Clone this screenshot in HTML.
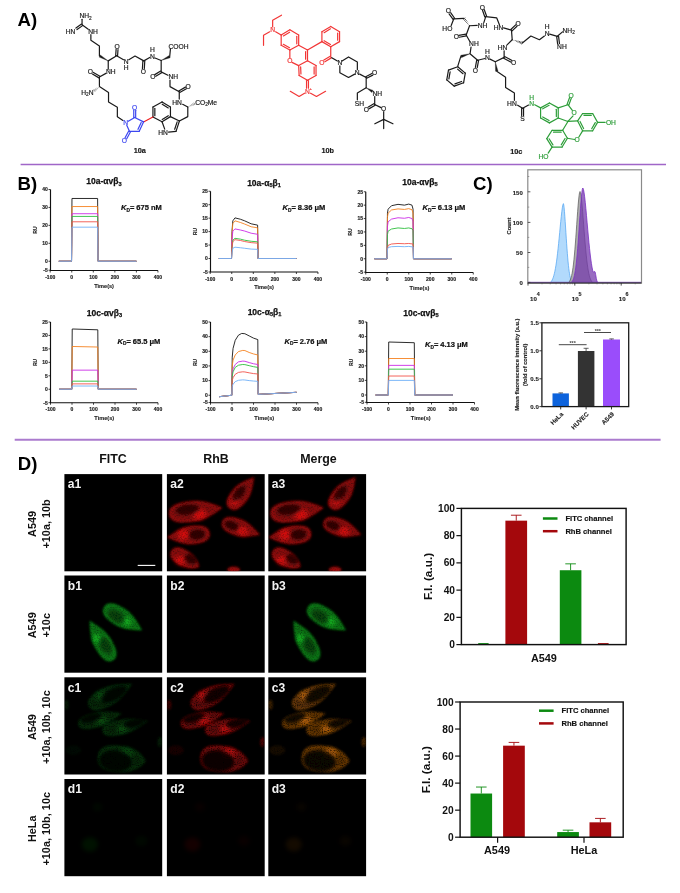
<!DOCTYPE html>
<html><head><meta charset="utf-8"><title>Figure</title>
<style>html,body{margin:0;padding:0;background:#fff}body{width:680px;height:893px;overflow:hidden}svg{display:block;filter:blur(0.45px)}text{font-family:"Liberation Sans", Arial, sans-serif}</style>
</head><body>
<svg width="680" height="893" viewBox="0 0 680 893">
<rect width="680" height="893" fill="#fff"/>
<defs>
<filter id="b1" x="-30%" y="-30%" width="160%" height="160%"><feGaussianBlur stdDeviation="0.9"/></filter>
<filter id="b15" x="-50%" y="-50%" width="200%" height="200%"><feGaussianBlur stdDeviation="1.5"/></filter>
<filter id="b2" x="-60%" y="-60%" width="220%" height="220%"><feGaussianBlur stdDeviation="2.2"/></filter>
<filter id="grain" x="0" y="0" width="100%" height="100%"><feTurbulence type="fractalNoise" baseFrequency="0.75" numOctaves="2" seed="7" result="n"/><feColorMatrix in="n" type="matrix" values="0 0 0 0 0  0 0 0 0 0  0 0 0 0 0  0.9 0 0 0 0.5" result="a"/><feComposite in="SourceGraphic" in2="a" operator="in"/><feGaussianBlur stdDeviation="0.55"/></filter>
<filter id="grainC" x="0" y="0" width="100%" height="100%"><feTurbulence type="fractalNoise" baseFrequency="0.85" numOctaves="1" seed="11" result="n"/><feColorMatrix in="n" type="matrix" values="0 0 0 0 0  0 0 0 0 0  0 0 0 0 0  2.0 0 0 0 -0.1" result="a"/><feComposite in="SourceGraphic" in2="a" operator="in"/><feGaussianBlur stdDeviation="0.65"/></filter>
<clipPath id="pc"><rect x="0" y="0" width="97.8" height="97.2"/></clipPath>
<g id="cA" clip-path="url(#pc)"><g filter="url(#grain)"><path transform="translate(74.9 18.6) rotate(-51.7)" d="M-20 0C-20 -7.88 -11 -8.75 -3 -8.75C7 -8.75 15 -2.19 20 0C15 2.19 7 8.75 -3 8.75C-11 8.75 -20 7.88 -20 0Z" fill="currentColor" fill-opacity="0.5" filter="url(#b1)"/><path transform="translate(74.9 18.6) rotate(-51.7)" d="M-18.6 0C-18.6 -6.77 -10.23 -7.52 -2.79 -7.52C6.51 -7.52 13.95 -1.88 18.6 0C13.95 1.88 6.51 7.52 -2.79 7.52C-10.23 7.52 -18.6 6.77 -18.6 0Z" fill="none" stroke="currentColor" stroke-opacity="0.3" stroke-width="1.3" filter="url(#b1)"/><ellipse transform="translate(68 27) rotate(-51.7)" rx="5" ry="4" fill="currentColor" fill-opacity="0.7" filter="url(#b2)"/><ellipse transform="translate(71.9 19.5) rotate(-51.7)" rx="9.52" ry="4.14" fill="#000" fill-opacity="0.62" filter="url(#b15)"/><path transform="translate(28.8 36.9) rotate(-7)" d="M-27 0C-27 -9.45 -14.85 -10.5 -4.05 -10.5C9.45 -10.5 20.25 -3.88 27 0C20.25 3.88 9.45 10.5 -4.05 10.5C-14.85 10.5 -27 9.45 -27 0Z" fill="currentColor" fill-opacity="0.5" filter="url(#b1)"/><path transform="translate(28.8 36.9) rotate(-7)" d="M-25.11 0C-25.11 -8.13 -13.81 -9.03 -3.77 -9.03C8.79 -9.03 18.83 -3.34 25.11 0C18.83 3.34 8.79 9.03 -3.77 9.03C-13.81 9.03 -25.11 8.13 -25.11 0Z" fill="none" stroke="currentColor" stroke-opacity="0.3" stroke-width="1.3" filter="url(#b1)"/><ellipse transform="translate(32.5 40.5) rotate(-7)" rx="7" ry="5" fill="currentColor" fill-opacity="0.7" filter="url(#b2)"/><ellipse transform="translate(20.5 35.5) rotate(-7)" rx="11.76" ry="5.29" fill="#000" fill-opacity="0.62" filter="url(#b15)"/><path transform="translate(74.1 54.2) rotate(19)" d="M-20 0C-20 -7.65 -11 -8.5 -3 -8.5C7 -8.5 15 -2.12 20 0C15 2.12 7 8.5 -3 8.5C-11 8.5 -20 7.65 -20 0Z" fill="currentColor" fill-opacity="0.5" filter="url(#b1)"/><path transform="translate(74.1 54.2) rotate(19)" d="M-18.6 0C-18.6 -6.58 -10.23 -7.31 -2.79 -7.31C6.51 -7.31 13.95 -1.83 18.6 0C13.95 1.83 6.51 7.31 -2.79 7.31C-10.23 7.31 -18.6 6.58 -18.6 0Z" fill="none" stroke="currentColor" stroke-opacity="0.3" stroke-width="1.3" filter="url(#b1)"/><ellipse transform="translate(75.5 57) rotate(19)" rx="6" ry="4" fill="currentColor" fill-opacity="0.7" filter="url(#b2)"/><ellipse transform="translate(64.6 51.3) rotate(19)" rx="7.62" ry="4.14" fill="#000" fill-opacity="0.62" filter="url(#b15)"/><path transform="translate(21.5 61.2) rotate(174.5)" d="M-21.5 0C-21.5 -8.37 -11.83 -9.3 -3.23 -9.3C7.52 -9.3 16.12 -2.33 21.5 0C16.12 2.33 7.52 9.3 -3.23 9.3C-11.83 9.3 -21.5 8.37 -21.5 0Z" fill="currentColor" fill-opacity="0.5" filter="url(#b1)"/><path transform="translate(21.5 61.2) rotate(174.5)" d="M-20 0C-20 -7.2 -11 -8 -3 -8C7 -8 15 -2 20 0C15 2 7 8 -3 8C-11 8 -20 7.2 -20 0Z" fill="none" stroke="currentColor" stroke-opacity="0.3" stroke-width="1.3" filter="url(#b1)"/><ellipse transform="translate(16.5 60.6) rotate(174.5)" rx="6" ry="5" fill="currentColor" fill-opacity="0.7" filter="url(#b2)"/><ellipse transform="translate(30.2 60.5) rotate(174.5)" rx="8.06" ry="5.29" fill="#000" fill-opacity="0.62" filter="url(#b15)"/><path transform="translate(18.3 84.8) rotate(30)" d="M-16 0C-16 -7.2 -8.8 -8 -2.4 -8C5.6 -8 12 -5.36 16 0C12 5.36 5.6 8 -2.4 8C-8.8 8 -16 7.2 -16 0Z" fill="currentColor" fill-opacity="0.5" filter="url(#b1)"/><path transform="translate(18.3 84.8) rotate(30)" d="M-14.88 0C-14.88 -6.19 -8.18 -6.88 -2.23 -6.88C5.21 -6.88 11.16 -4.61 14.88 0C11.16 4.61 5.21 6.88 -2.23 6.88C-8.18 6.88 -14.88 6.19 -14.88 0Z" fill="none" stroke="currentColor" stroke-opacity="0.3" stroke-width="1.3" filter="url(#b1)"/><ellipse transform="translate(13.4 86.2) rotate(30)" rx="5" ry="4.4" fill="currentColor" fill-opacity="0.7" filter="url(#b2)"/><ellipse transform="translate(24.2 85) rotate(30)" rx="6.72" ry="4.6" fill="#000" fill-opacity="0.62" filter="url(#b15)"/><ellipse cx="66.8" cy="95.8" rx="6.4" ry="3.4" fill="currentColor" fill-opacity="0.6" filter="url(#b1)"/></g></g>
<g id="cB" clip-path="url(#pc)"><g filter="url(#grain)"><path transform="translate(58.7 43.2) rotate(31.7)" d="M-22.35 0C-22.35 -8.37 -12.29 -9.3 -3.35 -9.3C7.82 -9.3 16.76 -2.33 22.35 0C16.76 2.33 7.82 9.3 -3.35 9.3C-12.29 9.3 -22.35 8.37 -22.35 0Z" fill="currentColor" fill-opacity="0.5" filter="url(#b1)"/><path transform="translate(58.7 43.2) rotate(31.7)" d="M-20.79 0C-20.79 -7.2 -11.43 -8 -3.12 -8C7.27 -8 15.59 -2 20.79 0C15.59 2 7.27 8 -3.12 8C-11.43 8 -20.79 7.2 -20.79 0Z" fill="none" stroke="currentColor" stroke-opacity="0.3" stroke-width="1.3" filter="url(#b1)"/><ellipse transform="translate(62.5 45.8) rotate(31.7)" rx="5" ry="4" fill="currentColor" fill-opacity="0.7" filter="url(#b2)"/><ellipse transform="translate(52 40.9) rotate(31.7)" rx="9.52" ry="5.29" fill="#000" fill-opacity="0.4" filter="url(#b15)"/><path transform="translate(36.9 65) rotate(239.4)" d="M-23 0C-23 -8.01 -12.65 -8.9 -3.45 -8.9C8.05 -8.9 17.25 -2.23 23 0C17.25 2.23 8.05 8.9 -3.45 8.9C-12.65 8.9 -23 8.01 -23 0Z" fill="currentColor" fill-opacity="0.5" filter="url(#b1)"/><path transform="translate(36.9 65) rotate(239.4)" d="M-21.39 0C-21.39 -6.89 -11.76 -7.65 -3.21 -7.65C7.49 -7.65 16.04 -1.91 21.39 0C16.04 1.91 7.49 7.65 -3.21 7.65C-11.76 7.65 -21.39 6.89 -21.39 0Z" fill="none" stroke="currentColor" stroke-opacity="0.3" stroke-width="1.3" filter="url(#b1)"/><ellipse transform="translate(32.6 63) rotate(239.4)" rx="4.5" ry="4" fill="currentColor" fill-opacity="0.7" filter="url(#b2)"/><ellipse transform="translate(41 70) rotate(239.4)" rx="8.96" ry="5.06" fill="#000" fill-opacity="0.4" filter="url(#b15)"/></g></g>
<g id="cC" clip-path="url(#pc)"><g filter="url(#grainC)"><path transform="translate(46.1 17.8) rotate(-27.4)" d="M-24.5 0C-24.5 -8.37 -13.48 -9.3 -3.67 -9.3C8.57 -9.3 18.38 -2.33 24.5 0C18.38 2.33 8.57 9.3 -3.67 9.3C-13.48 9.3 -24.5 8.37 -24.5 0Z" fill="currentColor" fill-opacity="0.36" filter="url(#b1)"/><path transform="translate(46.1 17.8) rotate(-27.4)" d="M-22.79 0C-22.79 -7.2 -12.53 -8 -3.42 -8C7.97 -8 17.09 -2 22.79 0C17.09 2 7.97 8 -3.42 8C-12.53 8 -22.79 7.2 -22.79 0Z" fill="none" stroke="currentColor" stroke-opacity="0.3" stroke-width="1.3" filter="url(#b1)"/><ellipse transform="translate(36.2 18.4) rotate(-27.4)" rx="6" ry="4.5" fill="currentColor" fill-opacity="0.6" filter="url(#b2)"/><ellipse transform="translate(49.5 17) rotate(-27.4)" rx="14" ry="5.98" fill="#000" fill-opacity="0.8" filter="url(#b15)"/><path transform="translate(35.6 41.7) rotate(-14.5)" d="M-22.5 0C-22.5 -6.57 -12.38 -7.3 -3.38 -7.3C7.87 -7.3 16.88 -1.82 22.5 0C16.88 1.82 7.87 7.3 -3.38 7.3C-12.38 7.3 -22.5 6.57 -22.5 0Z" fill="currentColor" fill-opacity="0.38" filter="url(#b1)"/><path transform="translate(35.6 41.7) rotate(-14.5)" d="M-20.93 0C-20.93 -5.65 -11.51 -6.28 -3.14 -6.28C7.32 -6.28 15.69 -1.57 20.93 0C15.69 1.57 7.32 6.28 -3.14 6.28C-11.51 6.28 -20.93 5.65 -20.93 0Z" fill="none" stroke="currentColor" stroke-opacity="0.3" stroke-width="1.3" filter="url(#b1)"/><ellipse transform="translate(36.6 43) rotate(-14.5)" rx="6.5" ry="3.4" fill="currentColor" fill-opacity="0.75" filter="url(#b2)"/><ellipse transform="translate(26.5 40.6) rotate(-14.5)" rx="11.2" ry="4.14" fill="#000" fill-opacity="0.8" filter="url(#b15)"/><path transform="translate(60.7 48.9) rotate(-13)" d="M-23.25 0C-23.25 -6.57 -12.79 -7.3 -3.49 -7.3C8.14 -7.3 17.44 -1.82 23.25 0C17.44 1.82 8.14 7.3 -3.49 7.3C-12.79 7.3 -23.25 6.57 -23.25 0Z" fill="currentColor" fill-opacity="0.38" filter="url(#b1)"/><path transform="translate(60.7 48.9) rotate(-13)" d="M-21.62 0C-21.62 -5.65 -11.89 -6.28 -3.24 -6.28C7.57 -6.28 16.22 -1.57 21.62 0C16.22 1.57 7.57 6.28 -3.24 6.28C-11.89 6.28 -21.62 5.65 -21.62 0Z" fill="none" stroke="currentColor" stroke-opacity="0.3" stroke-width="1.3" filter="url(#b1)"/><ellipse transform="translate(58.5 51.2) rotate(-13)" rx="6" ry="3.4" fill="currentColor" fill-opacity="0.75" filter="url(#b2)"/><ellipse transform="translate(70 45.8) rotate(-13)" rx="11.2" ry="4.14" fill="#000" fill-opacity="0.8" filter="url(#b15)"/><path transform="translate(57.4 81.7) rotate(5)" d="M-24.25 0C-24.25 -12.02 -13.34 -13.35 -3.64 -13.35C8.49 -13.35 18.19 -9.75 24.25 0C18.19 9.75 8.49 13.35 -3.64 13.35C-13.34 13.35 -24.25 12.02 -24.25 0Z" fill="currentColor" fill-opacity="0.38" filter="url(#b1)"/><path transform="translate(57.4 81.7) rotate(5)" d="M-22.55 0C-22.55 -10.33 -12.4 -11.48 -3.38 -11.48C7.89 -11.48 16.91 -8.38 22.55 0C16.91 8.38 7.89 11.48 -3.38 11.48C-12.4 11.48 -22.55 10.33 -22.55 0Z" fill="none" stroke="currentColor" stroke-opacity="0.3" stroke-width="1.3" filter="url(#b1)"/><ellipse transform="translate(62 76) rotate(5)" rx="7" ry="5" fill="currentColor" fill-opacity="0.6" filter="url(#b2)"/><ellipse transform="translate(51 83.8) rotate(5)" rx="16.24" ry="10.58" fill="#000" fill-opacity="0.85" filter="url(#b15)"/><ellipse cx="2" cy="27.5" rx="2.5" ry="5" fill="currentColor" fill-opacity="0.25" filter="url(#b1)"/><ellipse cx="9" cy="73" rx="8" ry="5" fill="currentColor" fill-opacity="0.1" filter="url(#b1)"/><ellipse cx="95.5" cy="64.7" rx="2.4" ry="5" fill="currentColor" fill-opacity="0.3" filter="url(#b1)"/></g></g>
<g id="cD" clip-path="url(#pc)"><ellipse cx="25.5" cy="65.5" rx="8" ry="7" fill="currentColor" fill-opacity="0.08" filter="url(#b2)"/><ellipse cx="77" cy="62" rx="6" ry="5" fill="currentColor" fill-opacity="0.035" filter="url(#b2)"/><ellipse cx="33" cy="28" rx="5" ry="4" fill="currentColor" fill-opacity="0.035" filter="url(#b2)"/></g>
</defs>
<g font-weight="bold" fill="#000" font-size="18.6">
<text x="17.6" y="26.1">A)</text>
<text x="17.6" y="190">B)</text>
<text x="473" y="190.3">C)</text>
<text x="17.8" y="470.2">D)</text>
</g>
<path d="M20.6 164.4H666" stroke="#a066c8" stroke-width="1.5"/>
<path d="M14.7 439.8H660.6" stroke="#ab7bce" stroke-width="2.1"/>
<g id="mols" fill="none">
<text x="79.41" y="18.43" text-anchor="start" font-size="6.7" fill="#1a1a1a" stroke="#1a1a1a" stroke-width="0.18">NH<tspan font-size="4.7" dy="1.3">2</tspan></text>
<text x="75.44" y="33.87" text-anchor="end" font-size="6.7" fill="#1a1a1a" stroke="#1a1a1a" stroke-width="0.18">HN</text>
<text x="88.24" y="33.87" text-anchor="start" font-size="6.7" fill="#1a1a1a" stroke="#1a1a1a" stroke-width="0.18">NH</text>
<path d="M82.06 24.85L82.06 19.26" stroke="#1a1a1a" stroke-width="1.2" stroke-linecap="round"/>
<path d="M81.51 24.08L75.92 28.05" stroke="#1a1a1a" stroke-width="1.2" stroke-linecap="round"/>
<path d="M82.61 25.63L77.02 29.6" stroke="#1a1a1a" stroke-width="1.2" stroke-linecap="round"/>
<path d="M82.06 24.85L88.24 29.26" stroke="#1a1a1a" stroke-width="1.2" stroke-linecap="round"/>
<path d="M90.88 34.71L90.88 40.29L99.41 45.88L99.41 55.74" fill="none" stroke="#1a1a1a" stroke-width="1.2" stroke-linecap="round" stroke-linejoin="round"/>
<path d="M108.24 60.88L100.32 54.94L99.09 57.12Z" fill="#1a1a1a" stroke="#1a1a1a" stroke-width="0.3" stroke-linejoin="round"/>
<path d="M108.24 60.88L116.62 55.74" stroke="#1a1a1a" stroke-width="1.2" stroke-linecap="round"/>
<path d="M117.57 55.8L118.01 49.48" stroke="#1a1a1a" stroke-width="1.2" stroke-linecap="round"/>
<path d="M115.67 55.67L116.11 49.35" stroke="#1a1a1a" stroke-width="1.2" stroke-linecap="round"/>
<text x="117.06" y="49.02" text-anchor="middle" font-size="6.7" fill="#1a1a1a" stroke="#1a1a1a" stroke-width="0.18">O</text>
<path d="M116.62 55.74L123.53 59.71" stroke="#1a1a1a" stroke-width="1.2" stroke-linecap="round"/>
<text x="126.18" y="63.72" text-anchor="middle" font-size="6.7" fill="#1a1a1a" stroke="#1a1a1a" stroke-width="0.18">N</text>
<text x="126.18" y="70.05" text-anchor="middle" font-size="6.7" fill="#1a1a1a" stroke="#1a1a1a" stroke-width="0.18">H</text>
<path d="M128.82 59.71L135 56.03L143.82 60.88" fill="none" stroke="#1a1a1a" stroke-width="1.2" stroke-linecap="round" stroke-linejoin="round"/>
<path d="M142.88 60.83L142.43 68.47" stroke="#1a1a1a" stroke-width="1.2" stroke-linecap="round"/>
<path d="M144.77 60.94L144.33 68.58" stroke="#1a1a1a" stroke-width="1.2" stroke-linecap="round"/>
<text x="143.24" y="73.87" text-anchor="middle" font-size="6.7" fill="#1a1a1a" stroke="#1a1a1a" stroke-width="0.18">O</text>
<path d="M143.82 60.88L149.71 57.5" stroke="#1a1a1a" stroke-width="1.2" stroke-linecap="round"/>
<text x="152.35" y="58.58" text-anchor="middle" font-size="6.7" fill="#1a1a1a" stroke="#1a1a1a" stroke-width="0.18">N</text>
<text x="152.35" y="52.25" text-anchor="middle" font-size="6.7" fill="#1a1a1a" stroke="#1a1a1a" stroke-width="0.18">H</text>
<path d="M108.24 60.88L108.24 69.26" stroke="#1a1a1a" stroke-width="1.2" stroke-linecap="round"/>
<text x="105.88" y="74.31" text-anchor="start" font-size="6.7" fill="#1a1a1a" stroke="#1a1a1a" stroke-width="0.18">NH</text>
<path d="M105.88 73.38L99.41 77.06" stroke="#1a1a1a" stroke-width="1.2" stroke-linecap="round"/>
<path d="M99.9 76.24L93.42 72.42" stroke="#1a1a1a" stroke-width="1.2" stroke-linecap="round"/>
<path d="M98.93 77.88L92.46 74.05" stroke="#1a1a1a" stroke-width="1.2" stroke-linecap="round"/>
<text x="90.44" y="74.31" text-anchor="middle" font-size="6.7" fill="#1a1a1a" stroke="#1a1a1a" stroke-width="0.18">O</text>
<path d="M99.41 77.06L99.41 85.59" stroke="#1a1a1a" stroke-width="1.2" stroke-linecap="round"/>
<path d="M155 57.94L161.18 60.44" stroke="#1a1a1a" stroke-width="1.2" stroke-linecap="round"/>
<path d="M161.18 60.44L170.22 57.76L169.19 55.48Z" fill="#1a1a1a" stroke="#1a1a1a" stroke-width="0.3" stroke-linejoin="round"/>
<path d="M169.71 56.47L170.44 48.82" stroke="#1a1a1a" stroke-width="1.2" stroke-linecap="round"/>
<text x="168.53" y="48.58" text-anchor="start" font-size="6.7" fill="#1a1a1a" stroke="#1a1a1a" stroke-width="0.18">COOH</text>
<path d="M161.18 60.44L161.18 71.91" stroke="#1a1a1a" stroke-width="1.2" stroke-linecap="round"/>
<path d="M160.69 71.1L154.81 74.63" stroke="#1a1a1a" stroke-width="1.2" stroke-linecap="round"/>
<path d="M161.67 72.73L155.78 76.26" stroke="#1a1a1a" stroke-width="1.2" stroke-linecap="round"/>
<text x="152.79" y="79.16" text-anchor="middle" font-size="6.7" fill="#1a1a1a" stroke="#1a1a1a" stroke-width="0.18">O</text>
<path d="M161.18 71.91L167.94 75.29" stroke="#1a1a1a" stroke-width="1.2" stroke-linecap="round"/>
<text x="168.53" y="79.16" text-anchor="start" font-size="6.7" fill="#1a1a1a" stroke="#1a1a1a" stroke-width="0.18">NH</text>
<path d="M170 80L170 86.62L179.26 91.76" fill="none" stroke="#1a1a1a" stroke-width="1.2" stroke-linecap="round" stroke-linejoin="round"/>
<path d="M179.74 92.59L186.36 88.76" stroke="#1a1a1a" stroke-width="1.2" stroke-linecap="round"/>
<path d="M178.79 90.94L185.41 87.12" stroke="#1a1a1a" stroke-width="1.2" stroke-linecap="round"/>
<text x="188.09" y="89.02" text-anchor="middle" font-size="6.7" fill="#1a1a1a" stroke="#1a1a1a" stroke-width="0.18">O</text>
<path d="M179.26 91.76L179.26 99.12" stroke="#1a1a1a" stroke-width="1.2" stroke-linecap="round"/>
<text x="181.91" y="105.05" text-anchor="end" font-size="6.7" fill="#1a1a1a" stroke="#1a1a1a" stroke-width="0.18">HN</text>
<text x="195.15" y="105.05" text-anchor="start" font-size="6.7" fill="#1a1a1a" stroke="#1a1a1a" stroke-width="0.18">CO<tspan font-size="4.7" dy="1.3">2</tspan><tspan dy="-1.3">Me</tspan></text>
<path d="M182.65 104.26L187.79 107.06" stroke="#1a1a1a" stroke-width="1.2" stroke-linecap="round"/>
<path d="M189.23 106.64L189.01 106.19" stroke="#1a1a1a" stroke-width="0.55"/>
<path d="M190.66 106.21L190.22 105.32" stroke="#1a1a1a" stroke-width="0.55"/>
<path d="M192.09 105.79L191.44 104.44" stroke="#1a1a1a" stroke-width="0.55"/>
<path d="M193.53 105.37L192.65 103.57" stroke="#1a1a1a" stroke-width="0.55"/>
<path d="M194.96 104.95L193.86 102.7" stroke="#1a1a1a" stroke-width="0.55"/>
<path d="M187.79 107.06L187.79 116.62L179.41 121.03" fill="none" stroke="#1a1a1a" stroke-width="1.2" stroke-linecap="round" stroke-linejoin="round"/>
<path d="M170.44 116.62L170.44 107.06" stroke="#1a1a1a" stroke-width="1.2" stroke-linecap="round"/>
<path d="M170.44 107.06L162.06 101.91" stroke="#1a1a1a" stroke-width="1.2" stroke-linecap="round"/>
<path d="M168.27 107.96L162.24 104.25" stroke="#1a1a1a" stroke-width="1.2" stroke-linecap="round"/>
<path d="M162.06 101.91L152.94 107.06" stroke="#1a1a1a" stroke-width="1.2" stroke-linecap="round"/>
<path d="M152.94 107.06L152.94 117.06" stroke="#1a1a1a" stroke-width="1.2" stroke-linecap="round"/>
<path d="M154.84 108.46L154.84 115.66" stroke="#1a1a1a" stroke-width="1.2" stroke-linecap="round"/>
<path d="M152.94 117.06L162.06 121.76" stroke="#1a1a1a" stroke-width="1.2" stroke-linecap="round"/>
<path d="M162.06 121.76L170.44 116.62" stroke="#1a1a1a" stroke-width="1.2" stroke-linecap="round"/>
<path d="M162.24 119.42L168.27 115.72" stroke="#1a1a1a" stroke-width="1.2" stroke-linecap="round"/>
<path d="M170.44 116.62L179.41 121.03" stroke="#1a1a1a" stroke-width="1.2" stroke-linecap="round"/>
<path d="M179.41 121.03L176.03 131.32" stroke="#1a1a1a" stroke-width="1.2" stroke-linecap="round"/>
<path d="M177.13 121.88L174.7 129.29" stroke="#1a1a1a" stroke-width="1.2" stroke-linecap="round"/>
<path d="M176.03 131.32L168.53 132.06" stroke="#1a1a1a" stroke-width="1.2" stroke-linecap="round"/>
<path d="M164.71 129.12L162.06 121.76" stroke="#1a1a1a" stroke-width="1.2" stroke-linecap="round"/>
<text x="167.94" y="134.75" text-anchor="end" font-size="6.7" fill="#1a1a1a" stroke="#1a1a1a" stroke-width="0.18">HN</text>
<path d="M152.94 117.06L143.53 121.91" stroke="#f01c1c" stroke-width="1.1" stroke-linecap="round"/>
<text x="93.53" y="94.9" text-anchor="end" font-size="6.7" fill="#1a1a1a" stroke="#1a1a1a" stroke-width="0.18">H<tspan font-size="4.7" dy="1.3">2</tspan><tspan dy="-1.3">N</tspan></text>
<path d="M98.23 87.21L98.54 87.61" stroke="#1a1a1a" stroke-width="0.55"/>
<path d="M97.05 87.81L97.66 88.6" stroke="#1a1a1a" stroke-width="0.55"/>
<path d="M95.87 88.41L96.78 89.59" stroke="#1a1a1a" stroke-width="0.55"/>
<path d="M94.68 89L95.9 90.59" stroke="#1a1a1a" stroke-width="0.55"/>
<path d="M93.5 89.6L95.03 91.58" stroke="#1a1a1a" stroke-width="0.55"/>
<path d="M99.41 86.62L108.53 92.5L108.53 102.06L117.35 107.21L117.35 116.76L122.94 120.44" fill="none" stroke="#1a1a1a" stroke-width="1.2" stroke-linecap="round" stroke-linejoin="round"/>
<path d="M128.24 121.32L134.71 117.5" stroke="#3d47f0" stroke-width="1.2" stroke-linecap="round"/>
<path d="M135.66 117.5L135.66 110.29" stroke="#3d47f0" stroke-width="1.2" stroke-linecap="round"/>
<path d="M133.76 117.5L133.76 110.29" stroke="#3d47f0" stroke-width="1.2" stroke-linecap="round"/>
<text x="134.71" y="109.9" text-anchor="middle" font-size="6.7" fill="#3d47f0" stroke="#3d47f0" stroke-width="0.18">O</text>
<path d="M134.71 117.5L143.53 121.91" stroke="#3d47f0" stroke-width="1.2" stroke-linecap="round"/>
<path d="M143.53 121.91L139.12 131.47" stroke="#3d47f0" stroke-width="1.2" stroke-linecap="round"/>
<path d="M141.19 122.45L138.01 129.34" stroke="#3d47f0" stroke-width="1.2" stroke-linecap="round"/>
<path d="M139.12 131.47L129.56 131.47" stroke="#3d47f0" stroke-width="1.2" stroke-linecap="round"/>
<path d="M129.56 131.47L126.76 125.29" stroke="#3d47f0" stroke-width="1.2" stroke-linecap="round"/>
<path d="M128.72 131.02L125.05 137.78" stroke="#3d47f0" stroke-width="1.2" stroke-linecap="round"/>
<path d="M130.39 131.92L126.72 138.69" stroke="#3d47f0" stroke-width="1.2" stroke-linecap="round"/>
<text x="124.41" y="143.43" text-anchor="middle" font-size="6.7" fill="#3d47f0" stroke="#3d47f0" stroke-width="0.18">O</text>
<text x="125.59" y="125.05" text-anchor="middle" font-size="6.7" fill="#3d47f0" stroke="#3d47f0" stroke-width="0.18">N</text>
<text x="139.85" y="153.2" text-anchor="middle" font-size="7.3" fill="#1a1a1a" stroke="#1a1a1a" stroke-width="0.18" font-weight="bold">10a</text>
<text x="272.65" y="32.25" text-anchor="middle" font-size="6.7" fill="#f23636" stroke="#f23636" stroke-width="0.18">N</text>
<path d="M272.65 26.91L272.65 20.29L281.47 15.15" fill="none" stroke="#f23636" stroke-width="1.2" stroke-linecap="round" stroke-linejoin="round"/>
<path d="M269.71 31.76L263.53 35.29L263.53 45.29" fill="none" stroke="#f23636" stroke-width="1.2" stroke-linecap="round" stroke-linejoin="round"/>
<path d="M275.59 31.76L281.18 35" stroke="#f23636" stroke-width="1.2" stroke-linecap="round"/>
<path d="M281.18 35L289.85 29.85" stroke="#f23636" stroke-width="1.2" stroke-linecap="round"/>
<path d="M283.36 35.91L289.61 32.21" stroke="#f23636" stroke-width="1.2" stroke-linecap="round"/>
<path d="M289.85 29.85L298.68 35" stroke="#f23636" stroke-width="1.2" stroke-linecap="round"/>
<path d="M298.68 35L298.68 45.29" stroke="#f23636" stroke-width="1.2" stroke-linecap="round"/>
<path d="M296.78 36.44L296.78 43.85" stroke="#f23636" stroke-width="1.2" stroke-linecap="round"/>
<path d="M298.68 45.29L289.85 50" stroke="#f23636" stroke-width="1.2" stroke-linecap="round"/>
<path d="M289.85 50L281.18 45.29" stroke="#f23636" stroke-width="1.2" stroke-linecap="round"/>
<path d="M289.54 47.67L283.3 44.28" stroke="#f23636" stroke-width="1.2" stroke-linecap="round"/>
<path d="M281.18 45.29L281.18 35" stroke="#f23636" stroke-width="1.2" stroke-linecap="round"/>
<path d="M298.68 45.29L307.5 50" stroke="#f23636" stroke-width="1.2" stroke-linecap="round"/>
<path d="M307.5 50L307.5 60.74" stroke="#f23636" stroke-width="1.2" stroke-linecap="round"/>
<path d="M305.6 51.5L305.6 59.23" stroke="#f23636" stroke-width="1.2" stroke-linecap="round"/>
<path d="M289.85 50L289.85 57.94" stroke="#f23636" stroke-width="1.2" stroke-linecap="round"/>
<text x="289.85" y="63.13" text-anchor="middle" font-size="6.7" fill="#f23636" stroke="#f23636" stroke-width="0.18">O</text>
<path d="M292.06 62.35L298.68 65.59" stroke="#f23636" stroke-width="1.2" stroke-linecap="round"/>
<path d="M307.5 60.74L316.03 65.59" stroke="#f23636" stroke-width="1.2" stroke-linecap="round"/>
<path d="M316.03 65.59L316.03 75.44" stroke="#f23636" stroke-width="1.2" stroke-linecap="round"/>
<path d="M314.13 66.97L314.13 74.06" stroke="#f23636" stroke-width="1.2" stroke-linecap="round"/>
<path d="M316.03 75.44L307.5 80.29" stroke="#f23636" stroke-width="1.2" stroke-linecap="round"/>
<path d="M307.5 80.29L299.12 75.44" stroke="#f23636" stroke-width="1.2" stroke-linecap="round"/>
<path d="M299.12 75.44L298.68 65.59" stroke="#f23636" stroke-width="1.2" stroke-linecap="round"/>
<path d="M300.95 73.98L300.64 66.88" stroke="#f23636" stroke-width="1.2" stroke-linecap="round"/>
<path d="M298.68 65.59L307.5 60.74" stroke="#f23636" stroke-width="1.2" stroke-linecap="round"/>
<path d="M307.5 50L321.91 41.62" stroke="#f23636" stroke-width="1.2" stroke-linecap="round"/>
<path d="M321.91 41.62L321.91 31.76" stroke="#f23636" stroke-width="1.2" stroke-linecap="round"/>
<path d="M321.91 31.76L330.74 26.47" stroke="#f23636" stroke-width="1.2" stroke-linecap="round"/>
<path d="M324.12 32.65L330.48 28.84" stroke="#f23636" stroke-width="1.2" stroke-linecap="round"/>
<path d="M330.74 26.47L339.56 31.76" stroke="#f23636" stroke-width="1.2" stroke-linecap="round"/>
<path d="M339.56 31.76L339.56 41.62" stroke="#f23636" stroke-width="1.2" stroke-linecap="round"/>
<path d="M337.66 33.14L337.66 40.24" stroke="#f23636" stroke-width="1.2" stroke-linecap="round"/>
<path d="M339.56 41.62L330.74 46.76" stroke="#f23636" stroke-width="1.2" stroke-linecap="round"/>
<path d="M330.74 46.76L321.91 41.62" stroke="#f23636" stroke-width="1.2" stroke-linecap="round"/>
<path d="M330.46 44.4L324.1 40.7" stroke="#f23636" stroke-width="1.2" stroke-linecap="round"/>
<path d="M330.74 46.76L330.74 57.06" stroke="#f23636" stroke-width="1.2" stroke-linecap="round"/>
<path d="M330.24 56.25L323.92 60.07" stroke="#f23636" stroke-width="1.2" stroke-linecap="round"/>
<path d="M331.23 57.87L324.9 61.7" stroke="#f23636" stroke-width="1.2" stroke-linecap="round"/>
<text x="321.91" y="65.05" text-anchor="middle" font-size="6.7" fill="#f23636" stroke="#f23636" stroke-width="0.18">O</text>
<path d="M306.55 80.59L306.55 88.24" stroke="#f23636" stroke-width="1.2" stroke-linecap="round"/>
<path d="M308.45 80.59L308.45 88.24" stroke="#f23636" stroke-width="1.2" stroke-linecap="round"/>
<text x="307.5" y="94.02" text-anchor="middle" font-size="6.7" fill="#f23636" stroke="#f23636" stroke-width="0.18">N</text>
<text x="310.88" y="90.11" text-anchor="middle" font-size="3.6" fill="#f23636" stroke="#f23636" stroke-width="0.18">+</text>
<path d="M304.56 93.24L299.12 96.47L290.29 91.32" fill="none" stroke="#f23636" stroke-width="1.2" stroke-linecap="round" stroke-linejoin="round"/>
<path d="M310.59 93.24L316.47 96.47L325.59 91.32" fill="none" stroke="#f23636" stroke-width="1.2" stroke-linecap="round" stroke-linejoin="round"/>
<path d="M331.76 57.65L337.35 61.03" stroke="#1a1a1a" stroke-width="1.2" stroke-linecap="round"/>
<text x="339.85" y="65.19" text-anchor="middle" font-size="6.7" fill="#1a1a1a" stroke="#1a1a1a" stroke-width="0.18">N</text>
<path d="M342.06 61.03L348.53 56.91L357.35 62.06L357.35 69.71" fill="none" stroke="#1a1a1a" stroke-width="1.2" stroke-linecap="round" stroke-linejoin="round"/>
<path d="M354.71 74.12L348.53 77.5L339.85 72.65L339.85 65.74" fill="none" stroke="#1a1a1a" stroke-width="1.2" stroke-linecap="round" stroke-linejoin="round"/>
<text x="357.06" y="75.05" text-anchor="middle" font-size="6.7" fill="#1a1a1a" stroke="#1a1a1a" stroke-width="0.18">N</text>
<path d="M359.71 74.12L366.18 77.5" stroke="#1a1a1a" stroke-width="1.2" stroke-linecap="round"/>
<path d="M366.62 78.34L372.79 75.11" stroke="#1a1a1a" stroke-width="1.2" stroke-linecap="round"/>
<path d="M365.74 76.66L371.91 73.42" stroke="#1a1a1a" stroke-width="1.2" stroke-linecap="round"/>
<text x="374.71" y="75.49" text-anchor="middle" font-size="6.7" fill="#1a1a1a" stroke="#1a1a1a" stroke-width="0.18">O</text>
<path d="M366.18 77.5L366.18 87.79" stroke="#1a1a1a" stroke-width="1.2" stroke-linecap="round"/>
<path d="M366.18 87.79L371.87 92.55L373.13 90.39Z" fill="#1a1a1a" stroke="#1a1a1a" stroke-width="0.3" stroke-linejoin="round"/>
<text x="372.5" y="96.08" text-anchor="start" font-size="6.7" fill="#1a1a1a" stroke="#1a1a1a" stroke-width="0.18">NH</text>
<path d="M366.18 87.79L357.35 92.94L357.35 99.85" fill="none" stroke="#1a1a1a" stroke-width="1.2" stroke-linecap="round" stroke-linejoin="round"/>
<text x="354.85" y="105.93" text-anchor="start" font-size="6.7" fill="#1a1a1a" stroke="#1a1a1a" stroke-width="0.18">SH</text>
<path d="M374.71 96.62L374.71 104.41" stroke="#1a1a1a" stroke-width="1.2" stroke-linecap="round"/>
<path d="M374.23 103.59L368.35 106.97" stroke="#1a1a1a" stroke-width="1.2" stroke-linecap="round"/>
<path d="M375.18 105.24L369.3 108.62" stroke="#1a1a1a" stroke-width="1.2" stroke-linecap="round"/>
<text x="366.32" y="111.52" text-anchor="middle" font-size="6.7" fill="#1a1a1a" stroke="#1a1a1a" stroke-width="0.18">O</text>
<path d="M374.71 104.41L381.03 107.65" stroke="#1a1a1a" stroke-width="1.2" stroke-linecap="round"/>
<text x="383.53" y="111.22" text-anchor="middle" font-size="6.7" fill="#1a1a1a" stroke="#1a1a1a" stroke-width="0.18">O</text>
<path d="M383.68 111.62L383.68 128.53" stroke="#1a1a1a" stroke-width="1.2" stroke-linecap="round"/>
<path d="M383.68 119.41L374.85 123.82" stroke="#1a1a1a" stroke-width="1.2" stroke-linecap="round"/>
<path d="M383.68 119.41L392.94 123.82" stroke="#1a1a1a" stroke-width="1.2" stroke-linecap="round"/>
<text x="327.8" y="153.21" text-anchor="middle" font-size="7.3" fill="#1a1a1a" stroke="#1a1a1a" stroke-width="0.18" font-weight="bold">10b</text>
<text x="448.24" y="12.99" text-anchor="middle" font-size="6.7" fill="#1a1a1a" stroke="#1a1a1a" stroke-width="0.18">O</text>
<text x="452.35" y="30.63" text-anchor="end" font-size="6.7" fill="#1a1a1a" stroke="#1a1a1a" stroke-width="0.18">HO</text>
<text x="482.35" y="9.75" text-anchor="middle" font-size="6.7" fill="#1a1a1a" stroke="#1a1a1a" stroke-width="0.18">O</text>
<text x="477.65" y="27.69" text-anchor="start" font-size="6.7" fill="#1a1a1a" stroke="#1a1a1a" stroke-width="0.18">NH</text>
<text x="503.38" y="29.9" text-anchor="end" font-size="6.7" fill="#1a1a1a" stroke="#1a1a1a" stroke-width="0.18">HN</text>
<text x="518.09" y="25.93" text-anchor="middle" font-size="6.7" fill="#1a1a1a" stroke="#1a1a1a" stroke-width="0.18">O</text>
<text x="456.32" y="39.16" text-anchor="middle" font-size="6.7" fill="#1a1a1a" stroke="#1a1a1a" stroke-width="0.18">O</text>
<text x="469.12" y="46.22" text-anchor="start" font-size="6.7" fill="#1a1a1a" stroke="#1a1a1a" stroke-width="0.18">NH</text>
<text x="507.35" y="49.9" text-anchor="end" font-size="6.7" fill="#1a1a1a" stroke="#1a1a1a" stroke-width="0.18">HN</text>
<text x="487.5" y="54.16" text-anchor="middle" font-size="6.7" fill="#1a1a1a" stroke="#1a1a1a" stroke-width="0.18">H</text>
<text x="487.5" y="60.49" text-anchor="middle" font-size="6.7" fill="#1a1a1a" stroke="#1a1a1a" stroke-width="0.18">N</text>
<text x="513.68" y="64.9" text-anchor="middle" font-size="6.7" fill="#1a1a1a" stroke="#1a1a1a" stroke-width="0.18">O</text>
<text x="475.44" y="72.69" text-anchor="middle" font-size="6.7" fill="#1a1a1a" stroke="#1a1a1a" stroke-width="0.18">O</text>
<path d="M454.6 18.27L450.63 12.69" stroke="#1a1a1a" stroke-width="1.2" stroke-linecap="round"/>
<path d="M453.05 19.37L449.08 13.79" stroke="#1a1a1a" stroke-width="1.2" stroke-linecap="round"/>
<path d="M453.82 18.82L451.18 25.59" stroke="#1a1a1a" stroke-width="1.2" stroke-linecap="round"/>
<path d="M453.82 18.82L463.68 18.38" stroke="#1a1a1a" stroke-width="1.2" stroke-linecap="round"/>
<path d="M468.85 24.41L468.45 24.71" stroke="#1a1a1a" stroke-width="0.75"/>
<path d="M468.14 23.08L467.35 23.69" stroke="#1a1a1a" stroke-width="0.75"/>
<path d="M467.43 21.75L466.24 22.66" stroke="#1a1a1a" stroke-width="0.75"/>
<path d="M466.72 20.42L465.14 21.64" stroke="#1a1a1a" stroke-width="0.75"/>
<path d="M466.01 19.09L464.03 20.62" stroke="#1a1a1a" stroke-width="0.75"/>
<path d="M465.31 17.76L462.93 19.59" stroke="#1a1a1a" stroke-width="0.75"/>
<path d="M469.56 25.74L477.21 25.29" stroke="#1a1a1a" stroke-width="1.2" stroke-linecap="round"/>
<path d="M483.82 22.65L485.74 16.62" stroke="#1a1a1a" stroke-width="1.2" stroke-linecap="round"/>
<path d="M486.63 16.3L484.28 9.68" stroke="#1a1a1a" stroke-width="1.2" stroke-linecap="round"/>
<path d="M484.84 16.94L482.49 10.32" stroke="#1a1a1a" stroke-width="1.2" stroke-linecap="round"/>
<path d="M485.74 16.62L496.76 17.94L499.41 24.71" fill="none" stroke="#1a1a1a" stroke-width="1.2" stroke-linecap="round" stroke-linejoin="round"/>
<path d="M503.53 27.94L511.47 30.15" stroke="#1a1a1a" stroke-width="1.2" stroke-linecap="round"/>
<path d="M512.12 30.84L516.97 26.28" stroke="#1a1a1a" stroke-width="1.2" stroke-linecap="round"/>
<path d="M510.82 29.45L515.67 24.9" stroke="#1a1a1a" stroke-width="1.2" stroke-linecap="round"/>
<path d="M511.47 30.15L512.21 39.71" stroke="#1a1a1a" stroke-width="1.2" stroke-linecap="round"/>
<path d="M512.21 39.71L507.06 44.85" stroke="#1a1a1a" stroke-width="1.2" stroke-linecap="round"/>
<path d="M504.12 50.74L504.12 57.35" stroke="#1a1a1a" stroke-width="1.2" stroke-linecap="round"/>
<path d="M503.67 58.19L510.72 62.01" stroke="#1a1a1a" stroke-width="1.2" stroke-linecap="round"/>
<path d="M504.57 56.52L511.63 60.34" stroke="#1a1a1a" stroke-width="1.2" stroke-linecap="round"/>
<path d="M504.12 57.35L495.29 61.76" stroke="#1a1a1a" stroke-width="1.2" stroke-linecap="round"/>
<path d="M495.29 61.76L490 59.12" stroke="#1a1a1a" stroke-width="1.2" stroke-linecap="round"/>
<path d="M485 58.53L477.65 60.29" stroke="#1a1a1a" stroke-width="1.2" stroke-linecap="round"/>
<path d="M476.71 60.12L475.39 67.33" stroke="#1a1a1a" stroke-width="1.2" stroke-linecap="round"/>
<path d="M478.58 60.47L477.26 67.67" stroke="#1a1a1a" stroke-width="1.2" stroke-linecap="round"/>
<path d="M477.65 60.29L470 53.68" stroke="#1a1a1a" stroke-width="1.2" stroke-linecap="round"/>
<path d="M470.15 53.24L471.03 47.06" stroke="#1a1a1a" stroke-width="1.2" stroke-linecap="round"/>
<path d="M470 53.68L460.66 55.28L461.4 57.66Z" fill="#1a1a1a" stroke="#1a1a1a" stroke-width="0.3" stroke-linejoin="round"/>
<path d="M460.74 56.62L457.79 66.18" stroke="#1a1a1a" stroke-width="1.2" stroke-linecap="round"/>
<path d="M469.71 41.32L466.18 35" stroke="#1a1a1a" stroke-width="1.2" stroke-linecap="round"/>
<path d="M466 34.07L458.8 35.39" stroke="#1a1a1a" stroke-width="1.2" stroke-linecap="round"/>
<path d="M466.35 35.93L459.14 37.26" stroke="#1a1a1a" stroke-width="1.2" stroke-linecap="round"/>
<path d="M466.18 35L469.56 25.74" stroke="#1a1a1a" stroke-width="1.2" stroke-linecap="round"/>
<path d="M457.74 66.77L465.29 73.1" stroke="#1a1a1a" stroke-width="1.2" stroke-linecap="round"/>
<path d="M457.58 69.11L463.01 73.67" stroke="#1a1a1a" stroke-width="1.2" stroke-linecap="round"/>
<path d="M465.29 73.1L463.58 82.8" stroke="#1a1a1a" stroke-width="1.2" stroke-linecap="round"/>
<path d="M463.58 82.8L454.32 86.17" stroke="#1a1a1a" stroke-width="1.2" stroke-linecap="round"/>
<path d="M461.63 81.49L454.96 83.92" stroke="#1a1a1a" stroke-width="1.2" stroke-linecap="round"/>
<path d="M454.32 86.17L446.77 79.84" stroke="#1a1a1a" stroke-width="1.2" stroke-linecap="round"/>
<path d="M446.77 79.84L448.48 70.14" stroke="#1a1a1a" stroke-width="1.2" stroke-linecap="round"/>
<path d="M448.88 78.81L450.11 71.83" stroke="#1a1a1a" stroke-width="1.2" stroke-linecap="round"/>
<path d="M448.48 70.14L457.74 66.77" stroke="#1a1a1a" stroke-width="1.2" stroke-linecap="round"/>
<path d="M495.29 61.76L495.53 71.37L498 70.98Z" fill="#1a1a1a" stroke="#1a1a1a" stroke-width="0.3" stroke-linejoin="round"/>
<path d="M496.76 71.32L505.59 77.21L505.59 87.5L514.41 92.94L514.41 100.29" fill="none" stroke="#1a1a1a" stroke-width="1.2" stroke-linecap="round" stroke-linejoin="round"/>
<path d="M513.8 40.37L513.93 39.97" stroke="#1a1a1a" stroke-width="0.75"/>
<path d="M515.09 41.04L515.37 40.22" stroke="#1a1a1a" stroke-width="0.75"/>
<path d="M516.39 41.7L516.8 40.48" stroke="#1a1a1a" stroke-width="0.75"/>
<path d="M517.69 42.37L518.24 40.74" stroke="#1a1a1a" stroke-width="0.75"/>
<path d="M518.98 43.03L519.67 41" stroke="#1a1a1a" stroke-width="0.75"/>
<path d="M520.28 43.7L521.11 41.26" stroke="#1a1a1a" stroke-width="0.75"/>
<path d="M521.58 44.36L522.54 41.52" stroke="#1a1a1a" stroke-width="0.75"/>
<path d="M522.35 42.94L530.88 36.03L539.41 39.71L544.41 36.03" fill="none" stroke="#1a1a1a" stroke-width="1.2" stroke-linecap="round" stroke-linejoin="round"/>
<text x="547.06" y="29.31" text-anchor="middle" font-size="6.7" fill="#1a1a1a" stroke="#1a1a1a" stroke-width="0.18">H</text>
<text x="547.06" y="35.93" text-anchor="middle" font-size="6.7" fill="#1a1a1a" stroke="#1a1a1a" stroke-width="0.18">N</text>
<path d="M549.71 34.12L557.35 36.32" stroke="#1a1a1a" stroke-width="1.2" stroke-linecap="round"/>
<path d="M557.35 36.32L562.5 31.91" stroke="#1a1a1a" stroke-width="1.2" stroke-linecap="round"/>
<text x="562.5" y="32.55" text-anchor="start" font-size="6.7" fill="#1a1a1a" stroke="#1a1a1a" stroke-width="0.18">NH<tspan font-size="4.7" dy="1.3">2</tspan></text>
<path d="M556.7 36.59L557.59 43.79" stroke="#1a1a1a" stroke-width="1.2" stroke-linecap="round"/>
<path d="M558.59 36.36L559.47 43.56" stroke="#1a1a1a" stroke-width="1.2" stroke-linecap="round"/>
<text x="557.06" y="49.02" text-anchor="start" font-size="6.7" fill="#1a1a1a" stroke="#1a1a1a" stroke-width="0.18">NH</text>
<text x="516.76" y="105.87" text-anchor="end" font-size="6.7" fill="#1a1a1a" stroke="#1a1a1a" stroke-width="0.18">HN</text>
<path d="M517.65 105.24L522.59 108.24" stroke="#1a1a1a" stroke-width="1.2" stroke-linecap="round"/>
<path d="M521.64 108.24L521.64 115.47" stroke="#1a1a1a" stroke-width="1.2" stroke-linecap="round"/>
<path d="M523.54 108.24L523.54 115.47" stroke="#1a1a1a" stroke-width="1.2" stroke-linecap="round"/>
<text x="522.59" y="121.05" text-anchor="middle" font-size="6.7" fill="#1a1a1a" stroke="#1a1a1a" stroke-width="0.18">S</text>
<path d="M522.59 108.24L528.59 105.06" stroke="#1a1a1a" stroke-width="1.2" stroke-linecap="round"/>
<text x="531.76" y="99.69" text-anchor="middle" font-size="6.7" fill="#2e9e3a" stroke="#2e9e3a" stroke-width="0.18">H</text>
<text x="531.76" y="105.52" text-anchor="middle" font-size="6.7" fill="#2e9e3a" stroke="#2e9e3a" stroke-width="0.18">N</text>
<path d="M534.76 104.71L540.59 107.88" stroke="#2e9e3a" stroke-width="1.2" stroke-linecap="round"/>
<path d="M540.59 107.88L549.41 102.94" stroke="#2e9e3a" stroke-width="1.2" stroke-linecap="round"/>
<path d="M542.75 108.85L549.1 105.29" stroke="#2e9e3a" stroke-width="1.2" stroke-linecap="round"/>
<path d="M549.41 102.94L558.24 107.88" stroke="#2e9e3a" stroke-width="1.2" stroke-linecap="round"/>
<path d="M558.24 107.88L558.24 117.94" stroke="#2e9e3a" stroke-width="1.2" stroke-linecap="round"/>
<path d="M556.34 109.29L556.34 116.53" stroke="#2e9e3a" stroke-width="1.2" stroke-linecap="round"/>
<path d="M558.24 117.94L549.41 122.88" stroke="#2e9e3a" stroke-width="1.2" stroke-linecap="round"/>
<path d="M549.41 122.88L540.59 117.94" stroke="#2e9e3a" stroke-width="1.2" stroke-linecap="round"/>
<path d="M549.1 120.53L542.75 116.98" stroke="#2e9e3a" stroke-width="1.2" stroke-linecap="round"/>
<path d="M540.59 117.94L540.59 107.88" stroke="#2e9e3a" stroke-width="1.2" stroke-linecap="round"/>
<path d="M558.24 107.88L567.94 104.71" stroke="#2e9e3a" stroke-width="1.2" stroke-linecap="round"/>
<path d="M568.83 105.03L571.3 98.33" stroke="#2e9e3a" stroke-width="1.2" stroke-linecap="round"/>
<path d="M567.05 104.38L569.52 97.67" stroke="#2e9e3a" stroke-width="1.2" stroke-linecap="round"/>
<text x="571.12" y="97.93" text-anchor="middle" font-size="6.7" fill="#2e9e3a" stroke="#2e9e3a" stroke-width="0.18">O</text>
<path d="M567.94 104.71L572.35 110.35" stroke="#2e9e3a" stroke-width="1.2" stroke-linecap="round"/>
<text x="574.12" y="115.4" text-anchor="middle" font-size="6.7" fill="#2e9e3a" stroke="#2e9e3a" stroke-width="0.18">O</text>
<path d="M573.06 115.82L567.94 121.47" stroke="#2e9e3a" stroke-width="1.2" stroke-linecap="round"/>
<path d="M567.94 121.47L558.24 117.94" stroke="#2e9e3a" stroke-width="1.2" stroke-linecap="round"/>
<path d="M577.65 120.94L582.59 113.53" stroke="#2e9e3a" stroke-width="1.2" stroke-linecap="round"/>
<path d="M582.59 113.53L592.65 113.53" stroke="#2e9e3a" stroke-width="1.2" stroke-linecap="round"/>
<path d="M584 115.43L591.24 115.43" stroke="#2e9e3a" stroke-width="1.2" stroke-linecap="round"/>
<path d="M592.65 113.53L597.59 122.35" stroke="#2e9e3a" stroke-width="1.2" stroke-linecap="round"/>
<path d="M597.59 122.35L592.65 130.82" stroke="#2e9e3a" stroke-width="1.2" stroke-linecap="round"/>
<path d="M595.26 122.58L591.7 128.68" stroke="#2e9e3a" stroke-width="1.2" stroke-linecap="round"/>
<path d="M592.65 130.82L582.59 130.82" stroke="#2e9e3a" stroke-width="1.2" stroke-linecap="round"/>
<path d="M582.59 130.82L577.65 120.94" stroke="#2e9e3a" stroke-width="1.2" stroke-linecap="round"/>
<path d="M583.6 128.59L580.04 121.48" stroke="#2e9e3a" stroke-width="1.2" stroke-linecap="round"/>
<path d="M567.94 121.47L577.65 120.94" stroke="#2e9e3a" stroke-width="1.2" stroke-linecap="round"/>
<path d="M597.59 122.35L605.18 122.35" stroke="#2e9e3a" stroke-width="1.2" stroke-linecap="round"/>
<text x="605.88" y="125.28" text-anchor="start" font-size="6.7" fill="#2e9e3a" stroke="#2e9e3a" stroke-width="0.18">OH</text>
<path d="M562.65 130.29L567.41 138.24" stroke="#2e9e3a" stroke-width="1.2" stroke-linecap="round"/>
<path d="M567.41 138.24L562.12 147.06" stroke="#2e9e3a" stroke-width="1.2" stroke-linecap="round"/>
<path d="M565.04 138.49L561.23 144.85" stroke="#2e9e3a" stroke-width="1.2" stroke-linecap="round"/>
<path d="M562.12 147.06L552.06 147.06" stroke="#2e9e3a" stroke-width="1.2" stroke-linecap="round"/>
<path d="M552.06 147.06L546.76 138.59" stroke="#2e9e3a" stroke-width="1.2" stroke-linecap="round"/>
<path d="M552.93 144.87L549.12 138.77" stroke="#2e9e3a" stroke-width="1.2" stroke-linecap="round"/>
<path d="M546.76 138.59L552.06 130.29" stroke="#2e9e3a" stroke-width="1.2" stroke-linecap="round"/>
<path d="M552.06 130.29L562.65 130.29" stroke="#2e9e3a" stroke-width="1.2" stroke-linecap="round"/>
<path d="M553.54 132.19L561.16 132.19" stroke="#2e9e3a" stroke-width="1.2" stroke-linecap="round"/>
<path d="M567.94 121.47L562.65 130.29" stroke="#2e9e3a" stroke-width="1.2" stroke-linecap="round"/>
<path d="M552.06 147.06L548.18 153.06" stroke="#2e9e3a" stroke-width="1.2" stroke-linecap="round"/>
<text x="548.53" y="158.63" text-anchor="end" font-size="6.7" fill="#2e9e3a" stroke="#2e9e3a" stroke-width="0.18">HO</text>
<text x="577.12" y="141.87" text-anchor="middle" font-size="6.7" fill="#2e9e3a" stroke="#2e9e3a" stroke-width="0.18">O</text>
<path d="M582.59 130.82L578.88 137" stroke="#2e9e3a" stroke-width="1.2" stroke-linecap="round"/>
<path d="M567.41 138.24L574.65 139.47" stroke="#2e9e3a" stroke-width="1.2" stroke-linecap="round"/>
<text x="516.24" y="154.08" text-anchor="middle" font-size="7.3" fill="#1a1a1a" stroke="#1a1a1a" stroke-width="0.18" font-weight="bold">10c</text>
</g>
<g id="spr">
<path d="M50.5 189.5V270.5H157.95" fill="none" stroke="#111" stroke-width="1.15"/>
<path d="M48.5 189.5H50.5" stroke="#111" stroke-width="0.8"/>
<text x="47.7" y="191.3" text-anchor="end" font-size="5" font-weight="bold" fill="#222" stroke="#222" stroke-width="0.15">40</text>
<path d="M48.5 207.44H50.5" stroke="#111" stroke-width="0.8"/>
<text x="47.7" y="209.24" text-anchor="end" font-size="5" font-weight="bold" fill="#222" stroke="#222" stroke-width="0.15">30</text>
<path d="M48.5 225.38H50.5" stroke="#111" stroke-width="0.8"/>
<text x="47.7" y="227.18" text-anchor="end" font-size="5" font-weight="bold" fill="#222" stroke="#222" stroke-width="0.15">20</text>
<path d="M48.5 243.31H50.5" stroke="#111" stroke-width="0.8"/>
<text x="47.7" y="245.11" text-anchor="end" font-size="5" font-weight="bold" fill="#222" stroke="#222" stroke-width="0.15">10</text>
<path d="M48.5 261.25H50.5" stroke="#111" stroke-width="0.8"/>
<text x="47.7" y="263.05" text-anchor="end" font-size="5" font-weight="bold" fill="#222" stroke="#222" stroke-width="0.15">0</text>
<path d="M48.5 270.22H50.5" stroke="#111" stroke-width="0.8"/>
<text x="47.7" y="272.02" text-anchor="end" font-size="5" font-weight="bold" fill="#222" stroke="#222" stroke-width="0.15">-5</text>
<path d="M50.2 270.5V272.5" stroke="#111" stroke-width="0.8"/>
<text x="50.2" y="279" text-anchor="middle" font-size="5" font-weight="bold" fill="#222" stroke="#222" stroke-width="0.15">-100</text>
<path d="M71.75 270.5V272.5" stroke="#111" stroke-width="0.8"/>
<text x="71.75" y="279" text-anchor="middle" font-size="5" font-weight="bold" fill="#222" stroke="#222" stroke-width="0.15">0</text>
<path d="M93.3 270.5V272.5" stroke="#111" stroke-width="0.8"/>
<text x="93.3" y="279" text-anchor="middle" font-size="5" font-weight="bold" fill="#222" stroke="#222" stroke-width="0.15">100</text>
<path d="M114.85 270.5V272.5" stroke="#111" stroke-width="0.8"/>
<text x="114.85" y="279" text-anchor="middle" font-size="5" font-weight="bold" fill="#222" stroke="#222" stroke-width="0.15">200</text>
<path d="M136.4 270.5V272.5" stroke="#111" stroke-width="0.8"/>
<text x="136.4" y="279" text-anchor="middle" font-size="5" font-weight="bold" fill="#222" stroke="#222" stroke-width="0.15">300</text>
<path d="M157.95 270.5V272.5" stroke="#111" stroke-width="0.8"/>
<text x="157.95" y="279" text-anchor="middle" font-size="5" font-weight="bold" fill="#222" stroke="#222" stroke-width="0.15">400</text>
<text x="104.08" y="287.9" text-anchor="middle" font-size="5.6" font-weight="bold" fill="#222" stroke="#222" stroke-width="0.12">Time(s)</text>
<text transform="translate(37 230) rotate(-90)" text-anchor="middle" font-size="4.8" font-weight="bold" fill="#222" stroke="#222" stroke-width="0.12">RU</text>
<text x="104" y="184" text-anchor="middle" font-size="8.5" font-weight="bold" fill="#111" stroke="#111" stroke-width="0.25">10a-αvβ<tspan font-size="5.6" dy="1.6">3</tspan></text>
<text x="121" y="210.3" font-size="7.5" font-weight="bold" fill="#111" stroke="#111" stroke-width="0.22"><tspan font-style="italic">K</tspan><tspan font-size="4.8" dy="1.4">D</tspan><tspan dy="-1.4" font-size="7.5">= 675 nM</tspan></text>
<path d="M58.82 261.25L71.53 261.25L71.97 198.47L97.61 198.47L98.04 261.25L136.4 261.25" fill="none" stroke="#151515" stroke-width="0.9" stroke-linejoin="round"/>
<path d="M58.82 261.25L71.53 261.25L71.97 206.54L97.61 206.54L98.04 261.25L136.4 261.25" fill="none" stroke="#f58220" stroke-width="0.9" stroke-linejoin="round"/>
<path d="M58.82 261.25L71.53 261.25L71.97 213.72L97.61 213.72L98.04 261.25L136.4 261.25" fill="none" stroke="#cc2be6" stroke-width="0.9" stroke-linejoin="round"/>
<path d="M58.82 261.25L71.53 261.25L71.97 216.41L97.61 216.41L98.04 261.25L136.4 261.25" fill="none" stroke="#2dbe3c" stroke-width="0.9" stroke-linejoin="round"/>
<path d="M58.82 261.25L71.53 261.25L71.97 221.79L97.61 221.79L98.04 261.25L136.4 261.25" fill="none" stroke="#f2524a" stroke-width="0.9" stroke-linejoin="round"/>
<path d="M58.82 261.25L71.53 261.25L71.97 227.17L97.61 227.17L98.04 261.25L136.4 261.25" fill="none" stroke="#6fb0f7" stroke-width="0.9" stroke-linejoin="round"/>
<path d="M210.5 191.25V272H317.95" fill="none" stroke="#111" stroke-width="1.15"/>
<path d="M208.5 191.25H210.5" stroke="#111" stroke-width="0.8"/>
<text x="207.7" y="193.05" text-anchor="end" font-size="5" font-weight="bold" fill="#222" stroke="#222" stroke-width="0.15">25</text>
<path d="M208.5 204.7H210.5" stroke="#111" stroke-width="0.8"/>
<text x="207.7" y="206.5" text-anchor="end" font-size="5" font-weight="bold" fill="#222" stroke="#222" stroke-width="0.15">20</text>
<path d="M208.5 218.15H210.5" stroke="#111" stroke-width="0.8"/>
<text x="207.7" y="219.95" text-anchor="end" font-size="5" font-weight="bold" fill="#222" stroke="#222" stroke-width="0.15">15</text>
<path d="M208.5 231.6H210.5" stroke="#111" stroke-width="0.8"/>
<text x="207.7" y="233.4" text-anchor="end" font-size="5" font-weight="bold" fill="#222" stroke="#222" stroke-width="0.15">10</text>
<path d="M208.5 245.05H210.5" stroke="#111" stroke-width="0.8"/>
<text x="207.7" y="246.85" text-anchor="end" font-size="5" font-weight="bold" fill="#222" stroke="#222" stroke-width="0.15">5</text>
<path d="M208.5 258.5H210.5" stroke="#111" stroke-width="0.8"/>
<text x="207.7" y="260.3" text-anchor="end" font-size="5" font-weight="bold" fill="#222" stroke="#222" stroke-width="0.15">0</text>
<path d="M208.5 271.95H210.5" stroke="#111" stroke-width="0.8"/>
<text x="207.7" y="273.75" text-anchor="end" font-size="5" font-weight="bold" fill="#222" stroke="#222" stroke-width="0.15">-5</text>
<path d="M210.2 272V274" stroke="#111" stroke-width="0.8"/>
<text x="210.2" y="280.5" text-anchor="middle" font-size="5" font-weight="bold" fill="#222" stroke="#222" stroke-width="0.15">-100</text>
<path d="M231.75 272V274" stroke="#111" stroke-width="0.8"/>
<text x="231.75" y="280.5" text-anchor="middle" font-size="5" font-weight="bold" fill="#222" stroke="#222" stroke-width="0.15">0</text>
<path d="M253.3 272V274" stroke="#111" stroke-width="0.8"/>
<text x="253.3" y="280.5" text-anchor="middle" font-size="5" font-weight="bold" fill="#222" stroke="#222" stroke-width="0.15">100</text>
<path d="M274.85 272V274" stroke="#111" stroke-width="0.8"/>
<text x="274.85" y="280.5" text-anchor="middle" font-size="5" font-weight="bold" fill="#222" stroke="#222" stroke-width="0.15">200</text>
<path d="M296.4 272V274" stroke="#111" stroke-width="0.8"/>
<text x="296.4" y="280.5" text-anchor="middle" font-size="5" font-weight="bold" fill="#222" stroke="#222" stroke-width="0.15">300</text>
<path d="M317.95 272V274" stroke="#111" stroke-width="0.8"/>
<text x="317.95" y="280.5" text-anchor="middle" font-size="5" font-weight="bold" fill="#222" stroke="#222" stroke-width="0.15">400</text>
<text x="264.08" y="289.4" text-anchor="middle" font-size="5.6" font-weight="bold" fill="#222" stroke="#222" stroke-width="0.12">Time(s)</text>
<text transform="translate(197 231.62) rotate(-90)" text-anchor="middle" font-size="4.8" font-weight="bold" fill="#222" stroke="#222" stroke-width="0.12">RU</text>
<text x="264" y="185.5" text-anchor="middle" font-size="8.5" font-weight="bold" fill="#111" stroke="#111" stroke-width="0.25">10a-α<tspan font-size="5.6" dy="1.6">5</tspan><tspan dy="-1.6" font-size="8.5">β</tspan><tspan font-size="5.6" dy="1.6">1</tspan></text>
<text x="282.5" y="210.3" font-size="7.5" font-weight="bold" fill="#111" stroke="#111" stroke-width="0.22"><tspan font-style="italic">K</tspan><tspan font-size="4.8" dy="1.4">D</tspan><tspan dy="-1.4" font-size="7.5">= 8.36 μM</tspan></text>
<path d="M218.82 258.5L231.53 258.5L231.97 231.6L232.83 220.84L234.98 217.88L240.37 219.23L244.68 220.84L251.15 223.8L257.61 225.14L258.04 258.5L296.4 258.5" fill="none" stroke="#151515" stroke-width="0.9" stroke-linejoin="round"/>
<path d="M218.82 258.5L231.53 258.5L231.97 234.29L232.83 223.53L234.98 220.84L240.37 222.45L244.68 224.07L251.15 226.76L257.61 227.83L258.04 258.5L296.4 258.5" fill="none" stroke="#f58220" stroke-width="0.9" stroke-linejoin="round"/>
<path d="M218.82 258.5L231.53 258.5L231.97 239.67L232.83 231.06L234.98 228.91L240.37 229.99L244.68 231.06L251.15 233.21L257.61 234.29L258.04 258.5L296.4 258.5" fill="none" stroke="#cc2be6" stroke-width="0.9" stroke-linejoin="round"/>
<path d="M218.82 258.5L231.53 258.5L231.97 247.74L232.83 240.21L234.98 238.32L240.37 239.13L244.68 240.21L251.15 241.28L257.61 241.82L258.04 258.5L296.4 258.5" fill="none" stroke="#2dbe3c" stroke-width="0.9" stroke-linejoin="round"/>
<path d="M218.82 258.5L231.53 258.5L231.97 247.74L232.83 241.55L234.98 239.67L240.37 240.48L244.68 241.55L251.15 242.63L257.61 243.17L258.04 258.5L296.4 258.5" fill="none" stroke="#f2524a" stroke-width="0.9" stroke-linejoin="round"/>
<path d="M218.82 258.5L231.53 258.5L231.97 253.12L232.83 248.28L234.98 247.2L240.37 247.74L244.68 248.28L251.15 249.09L257.61 249.35L258.04 258.5L296.4 258.5" fill="none" stroke="#6fb0f7" stroke-width="0.9" stroke-linejoin="round"/>
<path d="M365.75 191.75V272.5H473.25" fill="none" stroke="#111" stroke-width="1.15"/>
<path d="M363.75 191.75H365.75" stroke="#111" stroke-width="0.8"/>
<text x="362.95" y="193.55" text-anchor="end" font-size="5" font-weight="bold" fill="#222" stroke="#222" stroke-width="0.15">25</text>
<path d="M363.75 205.15H365.75" stroke="#111" stroke-width="0.8"/>
<text x="362.95" y="206.95" text-anchor="end" font-size="5" font-weight="bold" fill="#222" stroke="#222" stroke-width="0.15">20</text>
<path d="M363.75 218.55H365.75" stroke="#111" stroke-width="0.8"/>
<text x="362.95" y="220.35" text-anchor="end" font-size="5" font-weight="bold" fill="#222" stroke="#222" stroke-width="0.15">15</text>
<path d="M363.75 231.95H365.75" stroke="#111" stroke-width="0.8"/>
<text x="362.95" y="233.75" text-anchor="end" font-size="5" font-weight="bold" fill="#222" stroke="#222" stroke-width="0.15">10</text>
<path d="M363.75 245.35H365.75" stroke="#111" stroke-width="0.8"/>
<text x="362.95" y="247.15" text-anchor="end" font-size="5" font-weight="bold" fill="#222" stroke="#222" stroke-width="0.15">5</text>
<path d="M363.75 258.75H365.75" stroke="#111" stroke-width="0.8"/>
<text x="362.95" y="260.55" text-anchor="end" font-size="5" font-weight="bold" fill="#222" stroke="#222" stroke-width="0.15">0</text>
<path d="M363.75 272.15H365.75" stroke="#111" stroke-width="0.8"/>
<text x="362.95" y="273.95" text-anchor="end" font-size="5" font-weight="bold" fill="#222" stroke="#222" stroke-width="0.15">-5</text>
<path d="M365.75 272.5V274.5" stroke="#111" stroke-width="0.8"/>
<text x="365.75" y="281" text-anchor="middle" font-size="5" font-weight="bold" fill="#222" stroke="#222" stroke-width="0.15">-100</text>
<path d="M387.25 272.5V274.5" stroke="#111" stroke-width="0.8"/>
<text x="387.25" y="281" text-anchor="middle" font-size="5" font-weight="bold" fill="#222" stroke="#222" stroke-width="0.15">0</text>
<path d="M408.75 272.5V274.5" stroke="#111" stroke-width="0.8"/>
<text x="408.75" y="281" text-anchor="middle" font-size="5" font-weight="bold" fill="#222" stroke="#222" stroke-width="0.15">100</text>
<path d="M430.25 272.5V274.5" stroke="#111" stroke-width="0.8"/>
<text x="430.25" y="281" text-anchor="middle" font-size="5" font-weight="bold" fill="#222" stroke="#222" stroke-width="0.15">200</text>
<path d="M451.75 272.5V274.5" stroke="#111" stroke-width="0.8"/>
<text x="451.75" y="281" text-anchor="middle" font-size="5" font-weight="bold" fill="#222" stroke="#222" stroke-width="0.15">300</text>
<path d="M473.25 272.5V274.5" stroke="#111" stroke-width="0.8"/>
<text x="473.25" y="281" text-anchor="middle" font-size="5" font-weight="bold" fill="#222" stroke="#222" stroke-width="0.15">400</text>
<text x="419.5" y="289.9" text-anchor="middle" font-size="5.6" font-weight="bold" fill="#222" stroke="#222" stroke-width="0.12">Time(s)</text>
<text transform="translate(352.25 232.12) rotate(-90)" text-anchor="middle" font-size="4.8" font-weight="bold" fill="#222" stroke="#222" stroke-width="0.12">RU</text>
<text x="420" y="184.5" text-anchor="middle" font-size="8.5" font-weight="bold" fill="#111" stroke="#111" stroke-width="0.25">10a-αvβ<tspan font-size="5.6" dy="1.6">5</tspan></text>
<text x="422.5" y="210.3" font-size="7.5" font-weight="bold" fill="#111" stroke="#111" stroke-width="0.22"><tspan font-style="italic">K</tspan><tspan font-size="4.8" dy="1.4">D</tspan><tspan dy="-1.4" font-size="7.5">= 6.13 μM</tspan></text>
<path d="M374.35 258.75L387.04 258.75L387.46 213.19L388.11 209.17L391.55 205.69L398 204.35L404.45 205.15L408.75 204.08L411.98 205.15L413.05 209.17L413.48 258.75L451.75 258.75" fill="none" stroke="#151515" stroke-width="0.9" stroke-linejoin="round"/>
<path d="M374.35 258.75L387.04 258.75L387.46 217.21L388.11 213.19L391.55 209.97L398 208.9L404.45 209.44L408.75 208.63L411.98 209.71L413.05 213.19L413.48 258.75L451.75 258.75" fill="none" stroke="#f58220" stroke-width="0.9" stroke-linejoin="round"/>
<path d="M374.35 258.75L387.04 258.75L387.46 226.59L388.11 221.77L391.55 219.09L398 217.75L404.45 218.28L408.75 217.48L411.98 218.55L413.05 221.23L413.48 258.75L451.75 258.75" fill="none" stroke="#cc2be6" stroke-width="0.9" stroke-linejoin="round"/>
<path d="M374.35 258.75L387.04 258.75L387.46 234.63L388.11 231.15L391.55 229L398 227.93L404.45 228.47L408.75 227.93L411.98 228.73L413.05 230.61L413.48 258.75L451.75 258.75" fill="none" stroke="#2dbe3c" stroke-width="0.9" stroke-linejoin="round"/>
<path d="M374.35 258.75L387.04 258.75L387.46 248.03L388.11 245.35L391.55 244.01L398 243.47L404.45 243.74L408.75 243.47L413.05 244.01L413.48 258.75L451.75 258.75" fill="none" stroke="#f2524a" stroke-width="0.9" stroke-linejoin="round"/>
<path d="M374.35 258.75L387.04 258.75L387.46 249.37L388.11 247.49L391.55 246.69L398 246.42L404.45 246.69L408.75 246.42L413.05 246.96L413.48 258.75L451.75 258.75" fill="none" stroke="#6fb0f7" stroke-width="0.9" stroke-linejoin="round"/>
<path d="M50.5 322V402.75H158" fill="none" stroke="#111" stroke-width="1.15"/>
<path d="M48.5 322H50.5" stroke="#111" stroke-width="0.8"/>
<text x="47.7" y="323.8" text-anchor="end" font-size="5" font-weight="bold" fill="#222" stroke="#222" stroke-width="0.15">25</text>
<path d="M48.5 335.45H50.5" stroke="#111" stroke-width="0.8"/>
<text x="47.7" y="337.25" text-anchor="end" font-size="5" font-weight="bold" fill="#222" stroke="#222" stroke-width="0.15">20</text>
<path d="M48.5 348.9H50.5" stroke="#111" stroke-width="0.8"/>
<text x="47.7" y="350.7" text-anchor="end" font-size="5" font-weight="bold" fill="#222" stroke="#222" stroke-width="0.15">15</text>
<path d="M48.5 362.35H50.5" stroke="#111" stroke-width="0.8"/>
<text x="47.7" y="364.15" text-anchor="end" font-size="5" font-weight="bold" fill="#222" stroke="#222" stroke-width="0.15">10</text>
<path d="M48.5 375.8H50.5" stroke="#111" stroke-width="0.8"/>
<text x="47.7" y="377.6" text-anchor="end" font-size="5" font-weight="bold" fill="#222" stroke="#222" stroke-width="0.15">5</text>
<path d="M48.5 389.25H50.5" stroke="#111" stroke-width="0.8"/>
<text x="47.7" y="391.05" text-anchor="end" font-size="5" font-weight="bold" fill="#222" stroke="#222" stroke-width="0.15">0</text>
<path d="M48.5 402.7H50.5" stroke="#111" stroke-width="0.8"/>
<text x="47.7" y="404.5" text-anchor="end" font-size="5" font-weight="bold" fill="#222" stroke="#222" stroke-width="0.15">-5</text>
<path d="M50.5 402.75V404.75" stroke="#111" stroke-width="0.8"/>
<text x="50.5" y="411.25" text-anchor="middle" font-size="5" font-weight="bold" fill="#222" stroke="#222" stroke-width="0.15">-100</text>
<path d="M72 402.75V404.75" stroke="#111" stroke-width="0.8"/>
<text x="72" y="411.25" text-anchor="middle" font-size="5" font-weight="bold" fill="#222" stroke="#222" stroke-width="0.15">0</text>
<path d="M93.5 402.75V404.75" stroke="#111" stroke-width="0.8"/>
<text x="93.5" y="411.25" text-anchor="middle" font-size="5" font-weight="bold" fill="#222" stroke="#222" stroke-width="0.15">100</text>
<path d="M115 402.75V404.75" stroke="#111" stroke-width="0.8"/>
<text x="115" y="411.25" text-anchor="middle" font-size="5" font-weight="bold" fill="#222" stroke="#222" stroke-width="0.15">200</text>
<path d="M136.5 402.75V404.75" stroke="#111" stroke-width="0.8"/>
<text x="136.5" y="411.25" text-anchor="middle" font-size="5" font-weight="bold" fill="#222" stroke="#222" stroke-width="0.15">300</text>
<path d="M158 402.75V404.75" stroke="#111" stroke-width="0.8"/>
<text x="158" y="411.25" text-anchor="middle" font-size="5" font-weight="bold" fill="#222" stroke="#222" stroke-width="0.15">400</text>
<text x="104.25" y="420.15" text-anchor="middle" font-size="5.6" font-weight="bold" fill="#222" stroke="#222" stroke-width="0.12">Time(s)</text>
<text transform="translate(37 362.38) rotate(-90)" text-anchor="middle" font-size="4.8" font-weight="bold" fill="#222" stroke="#222" stroke-width="0.12">RU</text>
<text x="104.5" y="315.5" text-anchor="middle" font-size="8.5" font-weight="bold" fill="#111" stroke="#111" stroke-width="0.25">10c-αvβ<tspan font-size="5.6" dy="1.6">3</tspan></text>
<text x="117.5" y="344" font-size="7.5" font-weight="bold" fill="#111" stroke="#111" stroke-width="0.22"><tspan font-style="italic">K</tspan><tspan font-size="4.8" dy="1.4">D</tspan><tspan dy="-1.4" font-size="7.5">= 65.5 μM</tspan></text>
<path d="M59.1 389.25L71.78 389.25L72.22 328.99L97.8 329.8L98.23 389.25L136.5 389.25" fill="none" stroke="#151515" stroke-width="0.9" stroke-linejoin="round"/>
<path d="M59.1 389.25L71.78 389.25L72.22 346.48L97.8 347.02L98.23 389.25L136.5 389.25" fill="none" stroke="#f58220" stroke-width="0.9" stroke-linejoin="round"/>
<path d="M59.1 389.25L71.78 389.25L72.22 370.15L97.8 370.15L98.23 389.25L136.5 389.25" fill="none" stroke="#cc2be6" stroke-width="0.9" stroke-linejoin="round"/>
<path d="M59.1 389.25L71.78 389.25L72.22 381.18L97.8 381.18L98.23 389.25L136.5 389.25" fill="none" stroke="#2dbe3c" stroke-width="0.9" stroke-linejoin="round"/>
<path d="M59.1 389.25L71.78 389.25L72.22 383.87L97.8 383.87L98.23 389.25L136.5 389.25" fill="none" stroke="#f2524a" stroke-width="0.9" stroke-linejoin="round"/>
<path d="M59.1 389.25L71.78 389.25L72.22 386.02L97.8 386.02L98.23 389.25L136.5 389.25" fill="none" stroke="#6fb0f7" stroke-width="0.9" stroke-linejoin="round"/>
<path d="M210.5 322V402.75H318" fill="none" stroke="#111" stroke-width="1.15"/>
<path d="M208.5 322H210.5" stroke="#111" stroke-width="0.8"/>
<text x="207.7" y="323.8" text-anchor="end" font-size="5" font-weight="bold" fill="#222" stroke="#222" stroke-width="0.15">50</text>
<path d="M208.5 336.65H210.5" stroke="#111" stroke-width="0.8"/>
<text x="207.7" y="338.45" text-anchor="end" font-size="5" font-weight="bold" fill="#222" stroke="#222" stroke-width="0.15">40</text>
<path d="M208.5 351.3H210.5" stroke="#111" stroke-width="0.8"/>
<text x="207.7" y="353.1" text-anchor="end" font-size="5" font-weight="bold" fill="#222" stroke="#222" stroke-width="0.15">30</text>
<path d="M208.5 365.95H210.5" stroke="#111" stroke-width="0.8"/>
<text x="207.7" y="367.75" text-anchor="end" font-size="5" font-weight="bold" fill="#222" stroke="#222" stroke-width="0.15">20</text>
<path d="M208.5 380.6H210.5" stroke="#111" stroke-width="0.8"/>
<text x="207.7" y="382.4" text-anchor="end" font-size="5" font-weight="bold" fill="#222" stroke="#222" stroke-width="0.15">10</text>
<path d="M208.5 395.25H210.5" stroke="#111" stroke-width="0.8"/>
<text x="207.7" y="397.05" text-anchor="end" font-size="5" font-weight="bold" fill="#222" stroke="#222" stroke-width="0.15">0</text>
<path d="M208.5 402.57H210.5" stroke="#111" stroke-width="0.8"/>
<text x="207.7" y="404.38" text-anchor="end" font-size="5" font-weight="bold" fill="#222" stroke="#222" stroke-width="0.15">-5</text>
<path d="M210.5 402.75V404.75" stroke="#111" stroke-width="0.8"/>
<text x="210.5" y="411.25" text-anchor="middle" font-size="5" font-weight="bold" fill="#222" stroke="#222" stroke-width="0.15">-100</text>
<path d="M232 402.75V404.75" stroke="#111" stroke-width="0.8"/>
<text x="232" y="411.25" text-anchor="middle" font-size="5" font-weight="bold" fill="#222" stroke="#222" stroke-width="0.15">0</text>
<path d="M253.5 402.75V404.75" stroke="#111" stroke-width="0.8"/>
<text x="253.5" y="411.25" text-anchor="middle" font-size="5" font-weight="bold" fill="#222" stroke="#222" stroke-width="0.15">100</text>
<path d="M275 402.75V404.75" stroke="#111" stroke-width="0.8"/>
<text x="275" y="411.25" text-anchor="middle" font-size="5" font-weight="bold" fill="#222" stroke="#222" stroke-width="0.15">200</text>
<path d="M296.5 402.75V404.75" stroke="#111" stroke-width="0.8"/>
<text x="296.5" y="411.25" text-anchor="middle" font-size="5" font-weight="bold" fill="#222" stroke="#222" stroke-width="0.15">300</text>
<path d="M318 402.75V404.75" stroke="#111" stroke-width="0.8"/>
<text x="318" y="411.25" text-anchor="middle" font-size="5" font-weight="bold" fill="#222" stroke="#222" stroke-width="0.15">400</text>
<text x="264.25" y="420.15" text-anchor="middle" font-size="5.6" font-weight="bold" fill="#222" stroke="#222" stroke-width="0.12">Time(s)</text>
<text transform="translate(197 362.38) rotate(-90)" text-anchor="middle" font-size="4.8" font-weight="bold" fill="#222" stroke="#222" stroke-width="0.12">RU</text>
<text x="264.5" y="314.5" text-anchor="middle" font-size="8.5" font-weight="bold" fill="#111" stroke="#111" stroke-width="0.25">10c-α<tspan font-size="5.6" dy="1.6">5</tspan><tspan dy="-1.6" font-size="8.5">β</tspan><tspan font-size="5.6" dy="1.6">1</tspan></text>
<text x="284.5" y="344" font-size="7.5" font-weight="bold" fill="#111" stroke="#111" stroke-width="0.22"><tspan font-style="italic">K</tspan><tspan font-size="4.8" dy="1.4">D</tspan><tspan dy="-1.4" font-size="7.5">= 2.76 μM</tspan></text>
<path d="M219.1 396.71L231.78 395.25L232.22 357.16L233.07 348.37L235.22 340.31L238.45 335.19L241.68 333.43L244.9 333.72L249.2 335.92L253.5 338.12L257.8 339.58L258.23 394.37L296.5 392.32" fill="none" stroke="#151515" stroke-width="0.9" stroke-linejoin="round"/>
<path d="M219.1 396.71L231.78 395.25L232.22 365.95L233.07 360.09L235.22 354.96L238.45 351.59L242.75 350.42L244.9 350.57L249.2 352.47L253.5 353.94L257.8 354.96L258.23 394.37L296.5 392.32" fill="none" stroke="#f58220" stroke-width="0.9" stroke-linejoin="round"/>
<path d="M219.1 396.71L231.78 395.25L232.22 373.27L233.07 368.88L235.22 364.49L238.45 361.85L242.75 361.12L244.9 361.26L249.2 362.58L253.5 363.75L257.8 364.49L258.23 394.37L296.5 392.32" fill="none" stroke="#cc2be6" stroke-width="0.9" stroke-linejoin="round"/>
<path d="M219.1 396.71L231.78 395.25L232.22 376.2L233.07 371.81L235.22 367.42L238.45 365.22L242.75 364.49L244.9 364.63L249.2 365.66L253.5 366.68L257.8 367.42L258.23 394.37L296.5 392.32" fill="none" stroke="#2dbe3c" stroke-width="0.9" stroke-linejoin="round"/>
<path d="M219.1 396.71L231.78 395.25L232.22 380.6L233.07 377.67L235.22 374.3L238.45 372.4L242.75 371.81L244.9 371.96L249.2 372.84L253.5 373.57L257.8 374.01L258.23 394.37L296.5 392.32" fill="none" stroke="#f2524a" stroke-width="0.9" stroke-linejoin="round"/>
<path d="M219.1 396.71L231.78 395.25L232.22 386.46L233.07 384.26L235.22 381.63L238.45 380.31L242.75 379.87L244.9 380.01L249.2 380.6L253.5 381.04L257.8 381.33L258.23 394.37L296.5 392.32" fill="none" stroke="#6fb0f7" stroke-width="0.9" stroke-linejoin="round"/>
<path d="M366.75 322V402.5H474.5" fill="none" stroke="#111" stroke-width="1.15"/>
<path d="M364.75 322H366.75" stroke="#111" stroke-width="0.8"/>
<text x="363.95" y="323.8" text-anchor="end" font-size="5" font-weight="bold" fill="#222" stroke="#222" stroke-width="0.15">50</text>
<path d="M364.75 336.6H366.75" stroke="#111" stroke-width="0.8"/>
<text x="363.95" y="338.4" text-anchor="end" font-size="5" font-weight="bold" fill="#222" stroke="#222" stroke-width="0.15">40</text>
<path d="M364.75 351.2H366.75" stroke="#111" stroke-width="0.8"/>
<text x="363.95" y="353" text-anchor="end" font-size="5" font-weight="bold" fill="#222" stroke="#222" stroke-width="0.15">30</text>
<path d="M364.75 365.8H366.75" stroke="#111" stroke-width="0.8"/>
<text x="363.95" y="367.6" text-anchor="end" font-size="5" font-weight="bold" fill="#222" stroke="#222" stroke-width="0.15">20</text>
<path d="M364.75 380.4H366.75" stroke="#111" stroke-width="0.8"/>
<text x="363.95" y="382.2" text-anchor="end" font-size="5" font-weight="bold" fill="#222" stroke="#222" stroke-width="0.15">10</text>
<path d="M364.75 395H366.75" stroke="#111" stroke-width="0.8"/>
<text x="363.95" y="396.8" text-anchor="end" font-size="5" font-weight="bold" fill="#222" stroke="#222" stroke-width="0.15">0</text>
<path d="M364.75 402.3H366.75" stroke="#111" stroke-width="0.8"/>
<text x="363.95" y="404.1" text-anchor="end" font-size="5" font-weight="bold" fill="#222" stroke="#222" stroke-width="0.15">-5</text>
<path d="M367 402.5V404.5" stroke="#111" stroke-width="0.8"/>
<text x="367" y="411" text-anchor="middle" font-size="5" font-weight="bold" fill="#222" stroke="#222" stroke-width="0.15">-100</text>
<path d="M388.5 402.5V404.5" stroke="#111" stroke-width="0.8"/>
<text x="388.5" y="411" text-anchor="middle" font-size="5" font-weight="bold" fill="#222" stroke="#222" stroke-width="0.15">0</text>
<path d="M410 402.5V404.5" stroke="#111" stroke-width="0.8"/>
<text x="410" y="411" text-anchor="middle" font-size="5" font-weight="bold" fill="#222" stroke="#222" stroke-width="0.15">100</text>
<path d="M431.5 402.5V404.5" stroke="#111" stroke-width="0.8"/>
<text x="431.5" y="411" text-anchor="middle" font-size="5" font-weight="bold" fill="#222" stroke="#222" stroke-width="0.15">200</text>
<path d="M453 402.5V404.5" stroke="#111" stroke-width="0.8"/>
<text x="453" y="411" text-anchor="middle" font-size="5" font-weight="bold" fill="#222" stroke="#222" stroke-width="0.15">300</text>
<path d="M474.5 402.5V404.5" stroke="#111" stroke-width="0.8"/>
<text x="474.5" y="411" text-anchor="middle" font-size="5" font-weight="bold" fill="#222" stroke="#222" stroke-width="0.15">400</text>
<text x="420.75" y="419.9" text-anchor="middle" font-size="5.6" font-weight="bold" fill="#222" stroke="#222" stroke-width="0.12">Time(s)</text>
<text transform="translate(353.25 362.25) rotate(-90)" text-anchor="middle" font-size="4.8" font-weight="bold" fill="#222" stroke="#222" stroke-width="0.12">RU</text>
<text x="421" y="315.5" text-anchor="middle" font-size="8.5" font-weight="bold" fill="#111" stroke="#111" stroke-width="0.25">10c-αvβ<tspan font-size="5.6" dy="1.6">5</tspan></text>
<text x="425" y="347.3" font-size="7.5" font-weight="bold" fill="#111" stroke="#111" stroke-width="0.22"><tspan font-style="italic">K</tspan><tspan font-size="4.8" dy="1.4">D</tspan><tspan dy="-1.4" font-size="7.5">= 4.13 μM</tspan></text>
<path d="M375.6 395L388.29 395L388.71 342L414.3 342.73L414.73 395L453 395" fill="none" stroke="#151515" stroke-width="0.9" stroke-linejoin="round"/>
<path d="M375.6 395L388.29 395L388.71 358.5L414.3 358.5L414.73 395L453 395" fill="none" stroke="#f58220" stroke-width="0.9" stroke-linejoin="round"/>
<path d="M375.6 395L388.29 395L388.71 365.36L414.3 365.36L414.73 395L453 395" fill="none" stroke="#cc2be6" stroke-width="0.9" stroke-linejoin="round"/>
<path d="M375.6 395L388.29 395L388.71 369.16L414.3 369.16L414.73 395L453 395" fill="none" stroke="#2dbe3c" stroke-width="0.9" stroke-linejoin="round"/>
<path d="M375.6 395L388.29 395L388.71 376.02L414.3 376.02L414.73 395L453 395" fill="none" stroke="#f2524a" stroke-width="0.9" stroke-linejoin="round"/>
<path d="M375.6 395L388.29 395L388.71 380.4L414.3 380.4L414.73 395L453 395" fill="none" stroke="#6fb0f7" stroke-width="0.9" stroke-linejoin="round"/>
</g>
<g id="flow">
<rect x="527.8" y="169.8" width="113.7" height="113.2" fill="#fff" stroke="#8a8a8a" stroke-width="1.2"/>
<path d="M550.6 282.3L551.13 281.67L551.67 280.9L552.2 279.94L552.73 278.77L553.27 277.35L553.8 275.65L554.33 273.64L554.87 271.29L555.4 268.55L555.93 265.41L556.47 261.85L557 257.87L557.53 253.48L558.07 248.7L558.6 243.58L559.13 238.19L559.67 232.63L560.2 227.04L560.73 221.55L561.27 216.36L561.8 211.68L562.33 207.76L562.87 204.91L563.4 203.6L563.76 204.91L564.12 207.76L564.48 211.68L564.84 216.36L565.2 221.55L565.56 227.04L565.92 232.63L566.28 238.19L566.64 243.58L567 248.7L567.36 253.48L567.72 257.87L568.08 261.85L568.44 265.41L568.8 268.55L569.16 271.29L569.52 273.64L569.88 275.65L570.24 277.35L570.6 278.77L570.96 279.94L571.32 280.9L571.68 281.67L572.04 282.3L572.04 282.3L550.6 282.3Z" fill="#8ec8fb" fill-opacity="0.68"/><path d="M550.6 282.3L551.13 281.67L551.67 280.9L552.2 279.94L552.73 278.77L553.27 277.35L553.8 275.65L554.33 273.64L554.87 271.29L555.4 268.55L555.93 265.41L556.47 261.85L557 257.87L557.53 253.48L558.07 248.7L558.6 243.58L559.13 238.19L559.67 232.63L560.2 227.04L560.73 221.55L561.27 216.36L561.8 211.68L562.33 207.76L562.87 204.91L563.4 203.6L563.76 204.91L564.12 207.76L564.48 211.68L564.84 216.36L565.2 221.55L565.56 227.04L565.92 232.63L566.28 238.19L566.64 243.58L567 248.7L567.36 253.48L567.72 257.87L568.08 261.85L568.44 265.41L568.8 268.55L569.16 271.29L569.52 273.64L569.88 275.65L570.24 277.35L570.6 278.77L570.96 279.94L571.32 280.9L571.68 281.67L572.04 282.3" fill="none" stroke="#4aa0f0" stroke-width="0.7"/>
<path d="M568.8 282.3L569.27 281.74L569.73 281.02L570.2 280.1L570.67 278.93L571.13 277.46L571.6 275.66L572.07 273.46L572.53 270.83L573 267.7L573.47 264.05L573.93 259.84L574.4 255.08L574.87 249.78L575.33 243.98L575.8 237.75L576.27 231.2L576.73 224.49L577.2 217.78L577.67 211.29L578.13 205.26L578.6 199.97L579.07 195.68L579.53 192.72L580 191.5L580.52 192.72L581.04 195.68L581.56 199.97L582.08 205.26L582.6 211.29L583.12 217.78L583.64 224.49L584.16 231.2L584.68 237.75L585.2 243.98L585.72 249.78L586.24 255.08L586.76 259.84L587.28 264.05L587.8 267.7L588.32 270.83L588.84 273.46L589.36 275.66L589.88 277.46L590.4 278.93L590.92 280.1L591.44 281.02L591.96 281.74L592.48 282.3L592.48 282.3L568.8 282.3Z" fill="#9a9a9a" fill-opacity="0.8"/><path d="M568.8 282.3L569.27 281.74L569.73 281.02L570.2 280.1L570.67 278.93L571.13 277.46L571.6 275.66L572.07 273.46L572.53 270.83L573 267.7L573.47 264.05L573.93 259.84L574.4 255.08L574.87 249.78L575.33 243.98L575.8 237.75L576.27 231.2L576.73 224.49L577.2 217.78L577.67 211.29L578.13 205.26L578.6 199.97L579.07 195.68L579.53 192.72L580 191.5L580.52 192.72L581.04 195.68L581.56 199.97L582.08 205.26L582.6 211.29L583.12 217.78L583.64 224.49L584.16 231.2L584.68 237.75L585.2 243.98L585.72 249.78L586.24 255.08L586.76 259.84L587.28 264.05L587.8 267.7L588.32 270.83L588.84 273.46L589.36 275.66L589.88 277.46L590.4 278.93L590.92 280.1L591.44 281.02L591.96 281.74L592.48 282.3" fill="none" stroke="#555" stroke-width="0.7"/>
<path d="M571.6 282.3L572.07 281.72L572.53 280.97L573 280.01L573.47 278.8L573.93 277.28L574.4 275.4L574.87 273.12L575.33 270.38L575.8 267.14L576.27 263.34L576.73 258.98L577.2 254.03L577.67 248.53L578.13 242.5L578.6 236.03L579.07 229.23L579.53 222.26L580 215.29L580.47 208.55L580.93 202.29L581.4 196.79L581.87 192.34L582.33 189.27L582.8 188L583.41 189.27L584.03 192.34L584.64 196.79L585.25 202.29L585.87 208.55L586.48 215.29L587.09 222.26L587.71 229.23L588.32 236.03L588.93 242.5L589.55 248.53L590.16 254.03L590.77 258.98L591.39 263.34L592 267.1L592.61 270.14L593.23 272.03L593.84 272.25L594.45 271.41L595.07 271.81L595.68 274.69L596.29 278.37L596.91 280.91L597.52 282.3L597.52 282.3L571.6 282.3Z" fill="#7438ac" fill-opacity="0.74"/><path d="M571.6 282.3L572.07 281.72L572.53 280.97L573 280.01L573.47 278.8L573.93 277.28L574.4 275.4L574.87 273.12L575.33 270.38L575.8 267.14L576.27 263.34L576.73 258.98L577.2 254.03L577.67 248.53L578.13 242.5L578.6 236.03L579.07 229.23L579.53 222.26L580 215.29L580.47 208.55L580.93 202.29L581.4 196.79L581.87 192.34L582.33 189.27L582.8 188L583.41 189.27L584.03 192.34L584.64 196.79L585.25 202.29L585.87 208.55L586.48 215.29L587.09 222.26L587.71 229.23L588.32 236.03L588.93 242.5L589.55 248.53L590.16 254.03L590.77 258.98L591.39 263.34L592 267.1L592.61 270.14L593.23 272.03L593.84 272.25L594.45 271.41L595.07 271.81L595.68 274.69L596.29 278.37L596.91 280.91L597.52 282.3" fill="none" stroke="#7a30c0" stroke-width="0.8"/>
<path d="M528 282.3H641" stroke="#6a30b0" stroke-width="0.8"/>
<path d="M527.8 283H641.5" stroke="#222" stroke-width="1"/>
<path d="M527.8 191.8H530.4" stroke="#333" stroke-width="0.8"/>
<text x="522.8" y="194.7" text-anchor="end" font-size="6" font-weight="bold" fill="#222" stroke="#222" stroke-width="0.12">150</text>
<path d="M527.8 222.4H530.4" stroke="#333" stroke-width="0.8"/>
<text x="522.8" y="225.3" text-anchor="end" font-size="6" font-weight="bold" fill="#222" stroke="#222" stroke-width="0.12">100</text>
<path d="M527.8 252.5H530.4" stroke="#333" stroke-width="0.8"/>
<text x="522.8" y="255.4" text-anchor="end" font-size="6" font-weight="bold" fill="#222" stroke="#222" stroke-width="0.12">50</text>
<path d="M527.8 282.4H530.4" stroke="#333" stroke-width="0.8"/>
<text x="522.8" y="285.3" text-anchor="end" font-size="6" font-weight="bold" fill="#222" stroke="#222" stroke-width="0.12">0</text>
<path d="M527.8 176.5H529.3" stroke="#555" stroke-width="0.5"/>
<path d="M527.8 207.1H529.3" stroke="#555" stroke-width="0.5"/>
<path d="M527.8 237.4H529.3" stroke="#555" stroke-width="0.5"/>
<path d="M527.8 267.4H529.3" stroke="#555" stroke-width="0.5"/>
<path d="M528 283V285.6" stroke="#222" stroke-width="0.8"/>
<text x="530.1" y="300.6" font-size="6.2" font-weight="bold" fill="#222" stroke="#222" stroke-width="0.12">10</text><text x="536.7" y="296.3" font-size="5.4" font-weight="bold" fill="#222" stroke="#222" stroke-width="0.12">4</text>
<path d="M574.8 283V285.6" stroke="#222" stroke-width="0.8"/>
<text x="571.8" y="300.6" font-size="6.2" font-weight="bold" fill="#222" stroke="#222" stroke-width="0.12">10</text><text x="578.4" y="296.3" font-size="5.4" font-weight="bold" fill="#222" stroke="#222" stroke-width="0.12">5</text>
<path d="M621.2 283V285.6" stroke="#222" stroke-width="0.8"/>
<text x="618.8" y="300.6" font-size="6.2" font-weight="bold" fill="#222" stroke="#222" stroke-width="0.12">10</text><text x="625.4" y="296.3" font-size="5.4" font-weight="bold" fill="#222" stroke="#222" stroke-width="0.12">6</text>
<path d="M542.03 283V284.4" stroke="#444" stroke-width="0.4"/>
<path d="M550.23 283V284.4" stroke="#444" stroke-width="0.4"/>
<path d="M556.06 283V284.4" stroke="#444" stroke-width="0.4"/>
<path d="M560.57 283V284.4" stroke="#444" stroke-width="0.4"/>
<path d="M564.26 283V284.4" stroke="#444" stroke-width="0.4"/>
<path d="M567.38 283V284.4" stroke="#444" stroke-width="0.4"/>
<path d="M570.08 283V284.4" stroke="#444" stroke-width="0.4"/>
<path d="M572.47 283V284.4" stroke="#444" stroke-width="0.4"/>
<path d="M588.83 283V284.4" stroke="#444" stroke-width="0.4"/>
<path d="M597.03 283V284.4" stroke="#444" stroke-width="0.4"/>
<path d="M602.86 283V284.4" stroke="#444" stroke-width="0.4"/>
<path d="M607.37 283V284.4" stroke="#444" stroke-width="0.4"/>
<path d="M611.06 283V284.4" stroke="#444" stroke-width="0.4"/>
<path d="M614.18 283V284.4" stroke="#444" stroke-width="0.4"/>
<path d="M616.88 283V284.4" stroke="#444" stroke-width="0.4"/>
<path d="M619.27 283V284.4" stroke="#444" stroke-width="0.4"/>
<path d="M635.23 283V284.4" stroke="#444" stroke-width="0.4"/>
<text transform="translate(511 226) rotate(-90)" text-anchor="middle" font-size="5.8" font-weight="bold" fill="#222" stroke="#222" stroke-width="0.12">Count</text>
</g>
<g id="mfi">
<rect x="552.5" y="393.4" width="16.4" height="13.2" fill="#0d63dc"/>
<rect x="577.9" y="351" width="16.5" height="55.6" fill="#333"/>
<rect x="603" y="339.5" width="17" height="67.1" fill="#9a4dfb"/>
<path d="M586.1 351V348.3M583.6 348.3H588.6M560.7 393.4V392.9M558.5 392.9H563M611.5 339.5V338.9M609.3 338.9H613.8" stroke="#222" stroke-width="0.7" fill="none"/>
<rect x="541.9" y="322.8" width="86.8" height="83.8" fill="none" stroke="#1a1a1a" stroke-width="1.3"/>
<path d="M539.4 322.8H541.9" stroke="#222" stroke-width="0.9"/>
<text x="538.8" y="325" text-anchor="end" font-size="6.1" font-weight="bold" fill="#222" stroke="#222" stroke-width="0.12">1.5</text>
<path d="M539.4 350.8H541.9" stroke="#222" stroke-width="0.9"/>
<text x="538.8" y="353" text-anchor="end" font-size="6.1" font-weight="bold" fill="#222" stroke="#222" stroke-width="0.12">1.0</text>
<path d="M539.4 378.8H541.9" stroke="#222" stroke-width="0.9"/>
<text x="538.8" y="381" text-anchor="end" font-size="6.1" font-weight="bold" fill="#222" stroke="#222" stroke-width="0.12">0.5</text>
<path d="M539.4 406.6H541.9" stroke="#222" stroke-width="0.9"/>
<text x="538.8" y="408.8" text-anchor="end" font-size="6.1" font-weight="bold" fill="#222" stroke="#222" stroke-width="0.12">0.0</text>
<path d="M560.7 406.6V409.4" stroke="#222" stroke-width="0.9"/>
<text transform="translate(563.7 414.6) rotate(-45)" text-anchor="end" font-size="6.2" font-weight="bold" fill="#222" stroke="#222" stroke-width="0.12">HeLa</text>
<path d="M586.1 406.6V409.4" stroke="#222" stroke-width="0.9"/>
<text transform="translate(589.1 414.6) rotate(-45)" text-anchor="end" font-size="6.2" font-weight="bold" fill="#222" stroke="#222" stroke-width="0.12">HUVEC</text>
<path d="M611.5 406.6V409.4" stroke="#222" stroke-width="0.9"/>
<text transform="translate(614.5 414.6) rotate(-45)" text-anchor="end" font-size="6.2" font-weight="bold" fill="#222" stroke="#222" stroke-width="0.12">A549</text>
<path d="M558.8 344.7H586.6M584 332.5H611" stroke="#333" stroke-width="0.9"/>
<text x="572.6" y="345.4" text-anchor="middle" font-size="5.4" font-weight="bold" fill="#444">***</text>
<text x="597.8" y="333.2" text-anchor="middle" font-size="5.4" font-weight="bold" fill="#444">***</text>
<text transform="translate(519.4 364.7) rotate(-90)" text-anchor="middle" font-size="5.75" font-weight="bold" fill="#222" stroke="#222" stroke-width="0.12">Mean fluorescence intensity (a.u.)</text>
<text transform="translate(527.4 364.7) rotate(-90)" text-anchor="middle" font-size="5.75" font-weight="bold" fill="#222" stroke="#222" stroke-width="0.12">(fold of control)</text>
</g>
<g id="cells">
<g font-weight="bold" font-size="12.4" fill="#111" text-anchor="middle"><text x="113" y="463.1">FITC</text><text x="216" y="463.1">RhB</text><text x="318.5" y="463.1">Merge</text></g>
<rect x="64.4" y="474.1" width="97.8" height="97.2" fill="#000"/>
<rect x="166.9" y="474.1" width="97.8" height="97.2" fill="#000"/>
<rect x="268.3" y="474.1" width="97.8" height="97.2" fill="#000"/>
<rect x="64.4" y="575.5" width="97.8" height="97.2" fill="#000"/>
<rect x="166.9" y="575.5" width="97.8" height="97.2" fill="#000"/>
<rect x="268.3" y="575.5" width="97.8" height="97.2" fill="#000"/>
<rect x="64.4" y="677.3" width="97.8" height="97.2" fill="#000"/>
<rect x="166.9" y="677.3" width="97.8" height="97.2" fill="#000"/>
<rect x="268.3" y="677.3" width="97.8" height="97.2" fill="#000"/>
<rect x="64.4" y="779" width="97.8" height="97.2" fill="#000"/>
<rect x="166.9" y="779" width="97.8" height="97.2" fill="#000"/>
<rect x="268.3" y="779" width="97.8" height="97.2" fill="#000"/>
<use href="#cA" x="166.9" y="474.1" color="#ff1212" opacity="1"/>
<use href="#cA" x="268.3" y="474.1" color="#ff1212" opacity="1"/>
<use href="#cB" x="64.4" y="575.5" color="#18e028" opacity="0.95"/>
<use href="#cB" x="268.3" y="575.5" color="#18e028" opacity="0.95"/>
<use href="#cC" x="64.4" y="677.3" color="#18c028" opacity="0.5"/>
<use href="#cC" x="166.9" y="677.3" color="#ff1212" opacity="0.95"/>
<use href="#cC" x="268.3" y="677.3" color="#ff8a10" opacity="0.9"/>
<use href="#cD" x="64.4" y="779" color="#18e028" opacity="1"/>
<use href="#cD" x="166.9" y="779" color="#ff1212" opacity="1"/>
<use href="#cD" x="268.3" y="779" color="#ff8a10" opacity="1"/>
<g font-weight="bold" font-size="12.1" fill="#f4f4f4">
<text x="67.8" y="488.3">a1</text>
<text x="170.3" y="488.3">a2</text>
<text x="271.7" y="488.3">a3</text>
<text x="67.8" y="589.7">b1</text>
<text x="170.3" y="589.7">b2</text>
<text x="271.7" y="589.7">b3</text>
<text x="67.8" y="691.5">c1</text>
<text x="170.3" y="691.5">c2</text>
<text x="271.7" y="691.5">c3</text>
<text x="67.8" y="793.2">d1</text>
<text x="170.3" y="793.2">d2</text>
<text x="271.7" y="793.2">d3</text>
</g>
<path d="M137.7 565.4H155.3" stroke="#fff" stroke-width="1.1"/>
<g font-weight="bold" font-size="10.9" fill="#111" text-anchor="middle">
<text transform="translate(36 523.9) rotate(-90)">A549</text>
<text transform="translate(50 523.9) rotate(-90)">+10a, 10b</text>
<text transform="translate(36 625.3) rotate(-90)">A549</text>
<text transform="translate(50 625.3) rotate(-90)">+10c</text>
<text transform="translate(36 727.1) rotate(-90)">A549</text>
<text transform="translate(50 727.1) rotate(-90)">+10a, 10b, 10c</text>
<text transform="translate(36 828.8) rotate(-90)">HeLa</text>
<text transform="translate(50 828.8) rotate(-90)">+10a, 10b, 10c</text>
</g>
</g>
<g id="bar1">
<rect x="478.2" y="643.1" width="10.4" height="1.5" fill="#0c8a10"/>
<rect x="505.4" y="520.66" width="21.7" height="123.94" fill="#a4080c"/>
<path d="M516.25 520.66V515.21M510.95 515.21H521.55" stroke="#a4080c" stroke-width="0.9" fill="none"/>
<rect x="559.8" y="570.23" width="21.6" height="74.37" fill="#0c8a10"/>
<path d="M570.6 570.23V563.83M565.3 563.83H575.9" stroke="#0c8a10" stroke-width="0.9" fill="none"/>
<rect x="597.9" y="643.1" width="10.7" height="1.5" fill="#a4080c"/>
<rect x="461.4" y="508.4" width="164.7" height="136.2" fill="none" stroke="#111" stroke-width="1.45"/>
<path d="M456.4 644.6H461.4" stroke="#111" stroke-width="1.2"/>
<text x="455" y="648.2" text-anchor="end" font-size="10.2" font-weight="bold" fill="#111">0</text>
<path d="M456.4 617.36H461.4" stroke="#111" stroke-width="1.2"/>
<text x="455" y="620.96" text-anchor="end" font-size="10.2" font-weight="bold" fill="#111">20</text>
<path d="M456.4 590.12H461.4" stroke="#111" stroke-width="1.2"/>
<text x="455" y="593.72" text-anchor="end" font-size="10.2" font-weight="bold" fill="#111">40</text>
<path d="M456.4 562.88H461.4" stroke="#111" stroke-width="1.2"/>
<text x="455" y="566.48" text-anchor="end" font-size="10.2" font-weight="bold" fill="#111">60</text>
<path d="M456.4 535.64H461.4" stroke="#111" stroke-width="1.2"/>
<text x="455" y="539.24" text-anchor="end" font-size="10.2" font-weight="bold" fill="#111">80</text>
<path d="M456.4 508.4H461.4" stroke="#111" stroke-width="1.2"/>
<text x="455" y="512" text-anchor="end" font-size="10.2" font-weight="bold" fill="#111">100</text>
<text x="543.9" y="661.6" text-anchor="middle" font-size="10.9" font-weight="bold" fill="#111">A549</text>
<path d="M542.9 518.5h14.6" stroke="#0c8a10" stroke-width="2.5"/>
<path d="M542.9 531.2h14.6" stroke="#a4080c" stroke-width="2.5"/>
<text x="565.4" y="521.2" font-size="7.6" font-weight="bold" fill="#111" stroke="#111" stroke-width="0.15">FITC channel</text>
<text x="565.4" y="533.9" font-size="7.6" font-weight="bold" fill="#111" stroke="#111" stroke-width="0.15">RhB channel</text>
<text transform="translate(432.3 576.5) rotate(-90)" text-anchor="middle" font-size="11.8" font-weight="bold" fill="#111">F.I. (a.u.)</text>
</g><g id="bar2">
<rect x="470.5" y="793.53" width="21.6" height="43.67" fill="#0c8a10"/>
<path d="M481.3 793.53V787.04M476 787.04H486.6" stroke="#0c8a10" stroke-width="0.9" fill="none"/>
<rect x="503.1" y="745.67" width="21.7" height="91.53" fill="#a4080c"/>
<path d="M513.95 745.67V742.42M508.65 742.42H519.25" stroke="#a4080c" stroke-width="0.9" fill="none"/>
<rect x="557.2" y="832.06" width="21.7" height="5.14" fill="#0c8a10"/>
<path d="M568.05 832.06V830.17M562.75 830.17H573.35" stroke="#0c8a10" stroke-width="0.9" fill="none"/>
<rect x="589.5" y="822.33" width="21.7" height="14.87" fill="#a4080c"/>
<path d="M600.35 822.33V818.41M595.05 818.41H605.65" stroke="#a4080c" stroke-width="0.9" fill="none"/>
<rect x="460.1" y="702" width="163.1" height="135.2" fill="none" stroke="#111" stroke-width="1.45"/>
<path d="M455.1 837.2H460.1" stroke="#111" stroke-width="1.2"/>
<text x="453.7" y="840.8" text-anchor="end" font-size="10.2" font-weight="bold" fill="#111">0</text>
<path d="M455.1 810.16H460.1" stroke="#111" stroke-width="1.2"/>
<text x="453.7" y="813.76" text-anchor="end" font-size="10.2" font-weight="bold" fill="#111">20</text>
<path d="M455.1 783.12H460.1" stroke="#111" stroke-width="1.2"/>
<text x="453.7" y="786.72" text-anchor="end" font-size="10.2" font-weight="bold" fill="#111">40</text>
<path d="M455.1 756.08H460.1" stroke="#111" stroke-width="1.2"/>
<text x="453.7" y="759.68" text-anchor="end" font-size="10.2" font-weight="bold" fill="#111">60</text>
<path d="M455.1 729.04H460.1" stroke="#111" stroke-width="1.2"/>
<text x="453.7" y="732.64" text-anchor="end" font-size="10.2" font-weight="bold" fill="#111">80</text>
<path d="M455.1 702H460.1" stroke="#111" stroke-width="1.2"/>
<text x="453.7" y="705.6" text-anchor="end" font-size="10.2" font-weight="bold" fill="#111">100</text>
<path d="M497.6 837.2V842.7" stroke="#111" stroke-width="1.2"/>
<path d="M584 837.2V842.7" stroke="#111" stroke-width="1.2"/>
<text x="497" y="854.4" text-anchor="middle" font-size="10.9" font-weight="bold" fill="#111">A549</text>
<text x="584" y="854.4" text-anchor="middle" font-size="10.9" font-weight="bold" fill="#111">HeLa</text>
<path d="M539 710.7h14.6" stroke="#0c8a10" stroke-width="2.5"/>
<path d="M539 723.4h14.6" stroke="#a4080c" stroke-width="2.5"/>
<text x="561.5" y="713.4" font-size="7.6" font-weight="bold" fill="#111" stroke="#111" stroke-width="0.15">FITC channel</text>
<text x="561.5" y="726.1" font-size="7.6" font-weight="bold" fill="#111" stroke="#111" stroke-width="0.15">RhB channel</text>
<text transform="translate(430 769.6) rotate(-90)" text-anchor="middle" font-size="11.8" font-weight="bold" fill="#111">F.I. (a.u.)</text>
</g>
</svg></body></html>
